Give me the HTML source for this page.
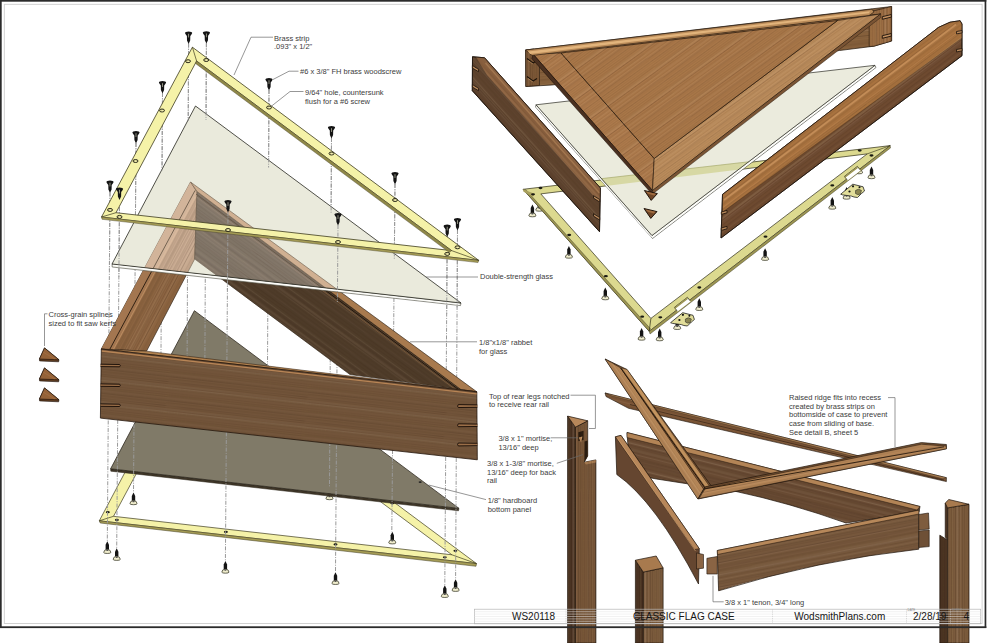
<!DOCTYPE html>
<html><head><meta charset="utf-8"><style>
html,body{margin:0;padding:0;background:#fff;}
body{width:1000px;height:643px;overflow:hidden;}
svg{display:block;font-family:"Liberation Sans", sans-serif;}
</style></head><body>
<svg width="1000" height="643" viewBox="0 0 1000 643">
<defs>
<pattern id="gH" width="140" height="24.0" patternUnits="userSpaceOnUse" patternTransform="rotate(6.4)"><path d="M0,-0.05 C35,-0.73 70,0.62 70,-0.05 S105,0.46 140,-0.05" stroke="#241204" stroke-opacity="0.201" stroke-width="1.10" fill="none"/><path d="M0,2.34 C35,1.83 70,2.85 70,2.34 S105,1.65 140,2.34" stroke="#241204" stroke-opacity="0.105" stroke-width="1.02" fill="none"/><path d="M0,4.57 C35,4.72 70,4.41 70,4.57 S105,5.08 140,4.57" stroke="#241204" stroke-opacity="0.216" stroke-width="0.70" fill="none"/><path d="M0,6.62 C35,6.33 70,6.92 70,6.62 S105,7.18 140,6.62" stroke="#241204" stroke-opacity="0.154" stroke-width="0.93" fill="none"/><path d="M0,8.42 C35,8.34 70,8.51 70,8.42 S105,7.92 140,8.42" stroke="#241204" stroke-opacity="0.128" stroke-width="0.86" fill="none"/><path d="M0,11.50 C35,11.86 70,11.13 70,11.50 S105,12.20 140,11.50" stroke="#241204" stroke-opacity="0.169" stroke-width="0.43" fill="none"/><path d="M0,13.62 C35,13.85 70,13.39 70,13.62 S105,13.52 140,13.62" stroke="#241204" stroke-opacity="0.186" stroke-width="0.41" fill="none"/><path d="M0,15.36 C35,14.67 70,16.05 70,15.36 S105,14.81 140,15.36" stroke="#241204" stroke-opacity="0.106" stroke-width="0.83" fill="none"/><path d="M0,17.88 C35,18.24 70,17.52 70,17.88 S105,18.43 140,17.88" stroke="#241204" stroke-opacity="0.151" stroke-width="0.55" fill="none"/><path d="M0,19.32 C35,19.51 70,19.12 70,19.32 S105,19.52 140,19.32" stroke="#241204" stroke-opacity="0.194" stroke-width="0.74" fill="none"/><path d="M0,22.06 C35,21.45 70,22.67 70,22.06 S105,21.78 140,22.06" stroke="#241204" stroke-opacity="0.173" stroke-width="0.66" fill="none"/><path d="M0,17.20 C42,17.63 84,16.77 140,17.20" stroke="#ffe6c4" stroke-opacity="0.051" stroke-width="0.76" fill="none"/><path d="M0,6.56 C42,6.56 84,6.56 140,6.56" stroke="#ffe6c4" stroke-opacity="0.080" stroke-width="0.75" fill="none"/><path d="M0,7.94 C42,8.02 84,7.86 140,7.94" stroke="#ffe6c4" stroke-opacity="0.062" stroke-width="0.73" fill="none"/><path d="M0,4.27 C42,4.38 84,4.17 140,4.27" stroke="#ffe6c4" stroke-opacity="0.093" stroke-width="0.97" fill="none"/><path d="M0,6.47 C42,6.07 84,6.87 140,6.47" stroke="#ffe6c4" stroke-opacity="0.077" stroke-width="0.80" fill="none"/></pattern>
<pattern id="gB" width="140" height="24.0" patternUnits="userSpaceOnUse" patternTransform="rotate(14)"><path d="M0,-0.20 C35,-0.18 70,-0.22 70,-0.20 S105,-0.85 140,-0.20" stroke="#241204" stroke-opacity="0.088" stroke-width="0.42" fill="none"/><path d="M0,2.68 C35,2.06 70,3.31 70,2.68 S105,2.07 140,2.68" stroke="#241204" stroke-opacity="0.196" stroke-width="0.52" fill="none"/><path d="M0,3.94 C35,4.33 70,3.55 70,3.94 S105,3.64 140,3.94" stroke="#241204" stroke-opacity="0.192" stroke-width="0.91" fill="none"/><path d="M0,6.89 C35,7.21 70,6.58 70,6.89 S105,6.31 140,6.89" stroke="#241204" stroke-opacity="0.197" stroke-width="0.73" fill="none"/><path d="M0,9.07 C35,9.02 70,9.12 70,9.07 S105,9.47 140,9.07" stroke="#241204" stroke-opacity="0.143" stroke-width="0.46" fill="none"/><path d="M0,10.38 C35,10.86 70,9.89 70,10.38 S105,10.25 140,10.38" stroke="#241204" stroke-opacity="0.131" stroke-width="0.64" fill="none"/><path d="M0,12.88 C35,12.53 70,13.24 70,12.88 S105,12.22 140,12.88" stroke="#241204" stroke-opacity="0.083" stroke-width="0.95" fill="none"/><path d="M0,15.77 C35,16.08 70,15.46 70,15.77 S105,15.93 140,15.77" stroke="#241204" stroke-opacity="0.200" stroke-width="0.85" fill="none"/><path d="M0,17.93 C35,18.26 70,17.59 70,17.93 S105,17.78 140,17.93" stroke="#241204" stroke-opacity="0.114" stroke-width="0.80" fill="none"/><path d="M0,19.80 C35,20.08 70,19.52 70,19.80 S105,19.63 140,19.80" stroke="#241204" stroke-opacity="0.107" stroke-width="1.01" fill="none"/><path d="M0,21.56 C35,21.21 70,21.91 70,21.56 S105,21.41 140,21.56" stroke="#241204" stroke-opacity="0.157" stroke-width="0.44" fill="none"/><path d="M0,13.49 C42,13.83 84,13.15 140,13.49" stroke="#ffe6c4" stroke-opacity="0.073" stroke-width="0.81" fill="none"/><path d="M0,13.20 C42,13.10 84,13.29 140,13.20" stroke="#ffe6c4" stroke-opacity="0.096" stroke-width="1.30" fill="none"/><path d="M0,18.93 C42,18.75 84,19.11 140,18.93" stroke="#ffe6c4" stroke-opacity="0.077" stroke-width="0.77" fill="none"/><path d="M0,23.70 C42,23.17 84,24.22 140,23.70" stroke="#ffe6c4" stroke-opacity="0.082" stroke-width="0.95" fill="none"/><path d="M0,19.93 C42,19.83 84,20.02 140,19.93" stroke="#ffe6c4" stroke-opacity="0.088" stroke-width="1.07" fill="none"/></pattern>
<pattern id="gF" width="140" height="24.0" patternUnits="userSpaceOnUse" patternTransform="rotate(-11)"><path d="M0,0.63 C35,0.66 70,0.59 70,0.63 S105,0.52 140,0.63" stroke="#241204" stroke-opacity="0.141" stroke-width="0.61" fill="none"/><path d="M0,1.87 C35,1.18 70,2.57 70,1.87 S105,1.68 140,1.87" stroke="#241204" stroke-opacity="0.122" stroke-width="0.87" fill="none"/><path d="M0,3.99 C35,4.28 70,3.69 70,3.99 S105,4.19 140,3.99" stroke="#241204" stroke-opacity="0.084" stroke-width="0.51" fill="none"/><path d="M0,6.27 C35,6.82 70,5.71 70,6.27 S105,5.83 140,6.27" stroke="#241204" stroke-opacity="0.183" stroke-width="0.90" fill="none"/><path d="M0,8.21 C35,8.91 70,7.51 70,8.21 S105,7.73 140,8.21" stroke="#241204" stroke-opacity="0.170" stroke-width="0.68" fill="none"/><path d="M0,11.20 C35,10.75 70,11.64 70,11.20 S105,11.54 140,11.20" stroke="#241204" stroke-opacity="0.091" stroke-width="0.51" fill="none"/><path d="M0,12.80 C35,12.69 70,12.91 70,12.80 S105,12.75 140,12.80" stroke="#241204" stroke-opacity="0.148" stroke-width="0.97" fill="none"/><path d="M0,14.62 C35,14.30 70,14.94 70,14.62 S105,14.00 140,14.62" stroke="#241204" stroke-opacity="0.087" stroke-width="0.94" fill="none"/><path d="M0,17.48 C35,17.46 70,17.50 70,17.48 S105,16.85 140,17.48" stroke="#241204" stroke-opacity="0.180" stroke-width="1.05" fill="none"/><path d="M0,20.16 C35,20.57 70,19.75 70,20.16 S105,20.81 140,20.16" stroke="#241204" stroke-opacity="0.175" stroke-width="0.61" fill="none"/><path d="M0,22.06 C35,21.81 70,22.32 70,22.06 S105,21.77 140,22.06" stroke="#241204" stroke-opacity="0.127" stroke-width="1.03" fill="none"/><path d="M0,10.63 C42,10.14 84,11.11 140,10.63" stroke="#ffe6c4" stroke-opacity="0.085" stroke-width="0.74" fill="none"/><path d="M0,6.19 C42,6.45 84,5.94 140,6.19" stroke="#ffe6c4" stroke-opacity="0.086" stroke-width="1.18" fill="none"/><path d="M0,4.07 C42,3.59 84,4.54 140,4.07" stroke="#ffe6c4" stroke-opacity="0.087" stroke-width="0.73" fill="none"/><path d="M0,18.28 C42,18.65 84,17.91 140,18.28" stroke="#ffe6c4" stroke-opacity="0.070" stroke-width="1.17" fill="none"/><path d="M0,5.69 C42,5.48 84,5.90 140,5.69" stroke="#ffe6c4" stroke-opacity="0.091" stroke-width="0.66" fill="none"/></pattern>
<pattern id="gR" width="140" height="24.0" patternUnits="userSpaceOnUse" patternTransform="rotate(36)"><path d="M0,-0.40 C35,-0.47 70,-0.32 70,-0.40 S105,-0.62 140,-0.40" stroke="#241204" stroke-opacity="0.092" stroke-width="0.79" fill="none"/><path d="M0,1.58 C35,1.76 70,1.39 70,1.58 S105,1.73 140,1.58" stroke="#241204" stroke-opacity="0.077" stroke-width="0.80" fill="none"/><path d="M0,4.39 C35,4.82 70,3.96 70,4.39 S105,4.88 140,4.39" stroke="#241204" stroke-opacity="0.144" stroke-width="0.42" fill="none"/><path d="M0,6.88 C35,6.27 70,7.50 70,6.88 S105,6.95 140,6.88" stroke="#241204" stroke-opacity="0.167" stroke-width="1.01" fill="none"/><path d="M0,9.15 C35,9.10 70,9.21 70,9.15 S105,9.81 140,9.15" stroke="#241204" stroke-opacity="0.110" stroke-width="1.05" fill="none"/><path d="M0,11.00 C35,10.97 70,11.04 70,11.00 S105,10.44 140,11.00" stroke="#241204" stroke-opacity="0.090" stroke-width="0.62" fill="none"/><path d="M0,12.68 C35,12.95 70,12.42 70,12.68 S105,12.37 140,12.68" stroke="#241204" stroke-opacity="0.129" stroke-width="0.80" fill="none"/><path d="M0,15.26 C35,15.74 70,14.77 70,15.26 S105,15.40 140,15.26" stroke="#241204" stroke-opacity="0.108" stroke-width="0.62" fill="none"/><path d="M0,18.07 C35,17.73 70,18.41 70,18.07 S105,17.80 140,18.07" stroke="#241204" stroke-opacity="0.168" stroke-width="0.83" fill="none"/><path d="M0,19.16 C35,18.68 70,19.64 70,19.16 S105,19.41 140,19.16" stroke="#241204" stroke-opacity="0.093" stroke-width="0.58" fill="none"/><path d="M0,21.36 C35,21.68 70,21.05 70,21.36 S105,21.88 140,21.36" stroke="#241204" stroke-opacity="0.132" stroke-width="0.58" fill="none"/><path d="M0,6.73 C42,6.94 84,6.51 140,6.73" stroke="#ffe6c4" stroke-opacity="0.057" stroke-width="1.19" fill="none"/><path d="M0,15.39 C42,14.95 84,15.83 140,15.39" stroke="#ffe6c4" stroke-opacity="0.086" stroke-width="1.00" fill="none"/><path d="M0,21.50 C42,21.38 84,21.62 140,21.50" stroke="#ffe6c4" stroke-opacity="0.098" stroke-width="0.77" fill="none"/><path d="M0,23.68 C42,23.11 84,24.25 140,23.68" stroke="#ffe6c4" stroke-opacity="0.097" stroke-width="0.66" fill="none"/><path d="M0,20.35 C42,20.87 84,19.83 140,20.35" stroke="#ffe6c4" stroke-opacity="0.065" stroke-width="1.10" fill="none"/></pattern>
<pattern id="gL" width="140" height="24.0" patternUnits="userSpaceOnUse" patternTransform="rotate(-62)"><path d="M0,-0.58 C35,-0.39 70,-0.78 70,-0.58 S105,-0.17 140,-0.58" stroke="#241204" stroke-opacity="0.084" stroke-width="1.09" fill="none"/><path d="M0,2.33 C35,1.80 70,2.85 70,2.33 S105,2.59 140,2.33" stroke="#241204" stroke-opacity="0.157" stroke-width="0.67" fill="none"/><path d="M0,4.09 C35,4.01 70,4.17 70,4.09 S105,3.65 140,4.09" stroke="#241204" stroke-opacity="0.164" stroke-width="0.62" fill="none"/><path d="M0,7.01 C35,7.06 70,6.97 70,7.01 S105,6.81 140,7.01" stroke="#241204" stroke-opacity="0.197" stroke-width="1.00" fill="none"/><path d="M0,8.34 C35,8.37 70,8.31 70,8.34 S105,8.10 140,8.34" stroke="#241204" stroke-opacity="0.179" stroke-width="0.50" fill="none"/><path d="M0,10.53 C35,10.66 70,10.41 70,10.53 S105,10.35 140,10.53" stroke="#241204" stroke-opacity="0.108" stroke-width="1.07" fill="none"/><path d="M0,12.99 C35,12.63 70,13.36 70,12.99 S105,12.38 140,12.99" stroke="#241204" stroke-opacity="0.155" stroke-width="0.85" fill="none"/><path d="M0,15.80 C35,15.26 70,16.34 70,15.80 S105,15.51 140,15.80" stroke="#241204" stroke-opacity="0.180" stroke-width="0.67" fill="none"/><path d="M0,17.06 C35,17.71 70,16.42 70,17.06 S105,16.77 140,17.06" stroke="#241204" stroke-opacity="0.180" stroke-width="0.79" fill="none"/><path d="M0,19.37 C35,20.03 70,18.71 70,19.37 S105,19.46 140,19.37" stroke="#241204" stroke-opacity="0.158" stroke-width="0.89" fill="none"/><path d="M0,22.47 C35,22.26 70,22.68 70,22.47 S105,22.88 140,22.47" stroke="#241204" stroke-opacity="0.173" stroke-width="1.05" fill="none"/><path d="M0,14.27 C42,14.86 84,13.69 140,14.27" stroke="#ffe6c4" stroke-opacity="0.091" stroke-width="1.05" fill="none"/><path d="M0,23.39 C42,22.85 84,23.94 140,23.39" stroke="#ffe6c4" stroke-opacity="0.071" stroke-width="0.68" fill="none"/><path d="M0,11.23 C42,11.66 84,10.80 140,11.23" stroke="#ffe6c4" stroke-opacity="0.090" stroke-width="0.95" fill="none"/><path d="M0,16.06 C42,15.93 84,16.18 140,16.06" stroke="#ffe6c4" stroke-opacity="0.069" stroke-width="1.24" fill="none"/><path d="M0,21.42 C42,21.64 84,21.21 140,21.42" stroke="#ffe6c4" stroke-opacity="0.099" stroke-width="0.96" fill="none"/></pattern>
<pattern id="gP" width="140" height="24.0" patternUnits="userSpaceOnUse" patternTransform="rotate(-36)"><path d="M0,0.32 C35,0.78 70,-0.14 70,0.32 S105,0.97 140,0.32" stroke="#241204" stroke-opacity="0.205" stroke-width="0.70" fill="none"/><path d="M0,2.32 C35,2.71 70,1.93 70,2.32 S105,2.63 140,2.32" stroke="#241204" stroke-opacity="0.096" stroke-width="0.71" fill="none"/><path d="M0,4.68 C35,3.98 70,5.38 70,4.68 S105,4.71 140,4.68" stroke="#241204" stroke-opacity="0.113" stroke-width="0.83" fill="none"/><path d="M0,6.71 C35,7.29 70,6.13 70,6.71 S105,6.79 140,6.71" stroke="#241204" stroke-opacity="0.136" stroke-width="0.85" fill="none"/><path d="M0,8.82 C35,8.59 70,9.05 70,8.82 S105,8.30 140,8.82" stroke="#241204" stroke-opacity="0.183" stroke-width="0.62" fill="none"/><path d="M0,11.49 C35,10.98 70,12.00 70,11.49 S105,11.26 140,11.49" stroke="#241204" stroke-opacity="0.195" stroke-width="0.98" fill="none"/><path d="M0,13.70 C35,13.24 70,14.15 70,13.70 S105,13.39 140,13.70" stroke="#241204" stroke-opacity="0.083" stroke-width="1.08" fill="none"/><path d="M0,14.90 C35,15.56 70,14.25 70,14.90 S105,15.31 140,14.90" stroke="#241204" stroke-opacity="0.174" stroke-width="0.45" fill="none"/><path d="M0,17.35 C35,17.18 70,17.52 70,17.35 S105,17.69 140,17.35" stroke="#241204" stroke-opacity="0.200" stroke-width="0.43" fill="none"/><path d="M0,20.05 C35,20.71 70,19.39 70,20.05 S105,19.65 140,20.05" stroke="#241204" stroke-opacity="0.218" stroke-width="0.78" fill="none"/><path d="M0,22.07 C35,21.90 70,22.23 70,22.07 S105,22.28 140,22.07" stroke="#241204" stroke-opacity="0.085" stroke-width="1.06" fill="none"/><path d="M0,15.57 C42,15.23 84,15.90 140,15.57" stroke="#ffe6c4" stroke-opacity="0.088" stroke-width="0.87" fill="none"/><path d="M0,18.93 C42,18.97 84,18.89 140,18.93" stroke="#ffe6c4" stroke-opacity="0.060" stroke-width="1.35" fill="none"/><path d="M0,9.77 C42,10.09 84,9.44 140,9.77" stroke="#ffe6c4" stroke-opacity="0.061" stroke-width="0.85" fill="none"/><path d="M0,8.79 C42,8.58 84,9.00 140,8.79" stroke="#ffe6c4" stroke-opacity="0.058" stroke-width="0.97" fill="none"/><path d="M0,10.37 C42,10.83 84,9.92 140,10.37" stroke="#ffe6c4" stroke-opacity="0.062" stroke-width="1.24" fill="none"/></pattern>
<pattern id="gLR" width="140" height="24.0" patternUnits="userSpaceOnUse" patternTransform="rotate(48)"><path d="M0,0.18 C35,0.36 70,0.00 70,0.18 S105,-0.18 140,0.18" stroke="#241204" stroke-opacity="0.192" stroke-width="0.64" fill="none"/><path d="M0,2.00 C35,2.31 70,1.70 70,2.00 S105,1.80 140,2.00" stroke="#241204" stroke-opacity="0.212" stroke-width="0.72" fill="none"/><path d="M0,4.20 C35,3.53 70,4.87 70,4.20 S105,4.56 140,4.20" stroke="#241204" stroke-opacity="0.108" stroke-width="0.72" fill="none"/><path d="M0,6.78 C35,6.73 70,6.82 70,6.78 S105,7.41 140,6.78" stroke="#241204" stroke-opacity="0.133" stroke-width="0.65" fill="none"/><path d="M0,8.21 C35,7.55 70,8.87 70,8.21 S105,7.67 140,8.21" stroke="#241204" stroke-opacity="0.159" stroke-width="0.48" fill="none"/><path d="M0,10.91 C35,10.42 70,11.40 70,10.91 S105,11.32 140,10.91" stroke="#241204" stroke-opacity="0.082" stroke-width="0.94" fill="none"/><path d="M0,13.66 C35,14.29 70,13.03 70,13.66 S105,13.61 140,13.66" stroke="#241204" stroke-opacity="0.193" stroke-width="0.52" fill="none"/><path d="M0,15.87 C35,16.54 70,15.21 70,15.87 S105,16.18 140,15.87" stroke="#241204" stroke-opacity="0.215" stroke-width="0.84" fill="none"/><path d="M0,18.07 C35,17.91 70,18.23 70,18.07 S105,17.49 140,18.07" stroke="#241204" stroke-opacity="0.107" stroke-width="1.01" fill="none"/><path d="M0,20.08 C35,19.92 70,20.25 70,20.08 S105,20.38 140,20.08" stroke="#241204" stroke-opacity="0.206" stroke-width="0.64" fill="none"/><path d="M0,21.51 C35,22.19 70,20.84 70,21.51 S105,21.33 140,21.51" stroke="#241204" stroke-opacity="0.209" stroke-width="0.58" fill="none"/><path d="M0,23.10 C42,22.55 84,23.66 140,23.10" stroke="#ffe6c4" stroke-opacity="0.068" stroke-width="0.95" fill="none"/><path d="M0,1.30 C42,1.67 84,0.92 140,1.30" stroke="#ffe6c4" stroke-opacity="0.097" stroke-width="0.93" fill="none"/><path d="M0,16.67 C42,16.39 84,16.95 140,16.67" stroke="#ffe6c4" stroke-opacity="0.065" stroke-width="1.14" fill="none"/><path d="M0,12.33 C42,11.85 84,12.81 140,12.33" stroke="#ffe6c4" stroke-opacity="0.099" stroke-width="1.39" fill="none"/><path d="M0,14.67 C42,15.18 84,14.17 140,14.67" stroke="#ffe6c4" stroke-opacity="0.067" stroke-width="0.94" fill="none"/></pattern>
<pattern id="gRR" width="140" height="24.0" patternUnits="userSpaceOnUse" patternTransform="rotate(-37)"><path d="M0,-0.63 C35,-1.15 70,-0.12 70,-0.63 S105,-0.47 140,-0.63" stroke="#241204" stroke-opacity="0.172" stroke-width="0.81" fill="none"/><path d="M0,1.90 C35,2.54 70,1.26 70,1.90 S105,1.20 140,1.90" stroke="#241204" stroke-opacity="0.178" stroke-width="0.94" fill="none"/><path d="M0,4.61 C35,5.24 70,3.99 70,4.61 S105,4.68 140,4.61" stroke="#241204" stroke-opacity="0.150" stroke-width="1.07" fill="none"/><path d="M0,6.37 C35,6.85 70,5.89 70,6.37 S105,6.61 140,6.37" stroke="#241204" stroke-opacity="0.098" stroke-width="0.43" fill="none"/><path d="M0,8.16 C35,7.77 70,8.55 70,8.16 S105,7.55 140,8.16" stroke="#241204" stroke-opacity="0.112" stroke-width="0.81" fill="none"/><path d="M0,10.95 C35,11.25 70,10.66 70,10.95 S105,10.45 140,10.95" stroke="#241204" stroke-opacity="0.199" stroke-width="0.67" fill="none"/><path d="M0,13.06 C35,12.70 70,13.41 70,13.06 S105,13.68 140,13.06" stroke="#241204" stroke-opacity="0.132" stroke-width="0.98" fill="none"/><path d="M0,14.64 C35,14.50 70,14.79 70,14.64 S105,14.10 140,14.64" stroke="#241204" stroke-opacity="0.220" stroke-width="0.47" fill="none"/><path d="M0,17.87 C35,17.77 70,17.96 70,17.87 S105,17.59 140,17.87" stroke="#241204" stroke-opacity="0.207" stroke-width="0.84" fill="none"/><path d="M0,20.06 C35,20.12 70,20.01 70,20.06 S105,20.32 140,20.06" stroke="#241204" stroke-opacity="0.173" stroke-width="0.46" fill="none"/><path d="M0,21.99 C35,22.03 70,21.95 70,21.99 S105,21.90 140,21.99" stroke="#241204" stroke-opacity="0.140" stroke-width="0.89" fill="none"/><path d="M0,11.55 C42,12.02 84,11.07 140,11.55" stroke="#ffe6c4" stroke-opacity="0.095" stroke-width="1.02" fill="none"/><path d="M0,20.34 C42,20.17 84,20.52 140,20.34" stroke="#ffe6c4" stroke-opacity="0.066" stroke-width="1.00" fill="none"/><path d="M0,13.16 C42,12.97 84,13.34 140,13.16" stroke="#ffe6c4" stroke-opacity="0.066" stroke-width="0.63" fill="none"/><path d="M0,9.13 C42,9.58 84,8.67 140,9.13" stroke="#ffe6c4" stroke-opacity="0.098" stroke-width="1.13" fill="none"/><path d="M0,8.91 C42,9.26 84,8.55 140,8.91" stroke="#ffe6c4" stroke-opacity="0.099" stroke-width="1.36" fill="none"/></pattern>
<pattern id="gT" width="140" height="24.0" patternUnits="userSpaceOnUse" patternTransform="rotate(-6.5)"><path d="M0,-0.02 C35,-0.22 70,0.18 70,-0.02 S105,0.23 140,-0.02" stroke="#241204" stroke-opacity="0.130" stroke-width="0.79" fill="none"/><path d="M0,2.40 C35,2.87 70,1.93 70,2.40 S105,1.81 140,2.40" stroke="#241204" stroke-opacity="0.193" stroke-width="0.48" fill="none"/><path d="M0,4.26 C35,4.60 70,3.92 70,4.26 S105,3.72 140,4.26" stroke="#241204" stroke-opacity="0.201" stroke-width="0.65" fill="none"/><path d="M0,6.46 C35,6.21 70,6.71 70,6.46 S105,5.96 140,6.46" stroke="#241204" stroke-opacity="0.180" stroke-width="0.73" fill="none"/><path d="M0,9.16 C35,9.13 70,9.20 70,9.16 S105,9.74 140,9.16" stroke="#241204" stroke-opacity="0.191" stroke-width="1.09" fill="none"/><path d="M0,10.77 C35,10.20 70,11.34 70,10.77 S105,11.36 140,10.77" stroke="#241204" stroke-opacity="0.099" stroke-width="0.97" fill="none"/><path d="M0,13.62 C35,13.22 70,14.02 70,13.62 S105,13.68 140,13.62" stroke="#241204" stroke-opacity="0.217" stroke-width="0.94" fill="none"/><path d="M0,15.46 C35,16.04 70,14.88 70,15.46 S105,15.65 140,15.46" stroke="#241204" stroke-opacity="0.202" stroke-width="0.54" fill="none"/><path d="M0,17.86 C35,18.40 70,17.32 70,17.86 S105,17.36 140,17.86" stroke="#241204" stroke-opacity="0.120" stroke-width="0.86" fill="none"/><path d="M0,20.23 C35,19.69 70,20.78 70,20.23 S105,20.73 140,20.23" stroke="#241204" stroke-opacity="0.172" stroke-width="0.89" fill="none"/><path d="M0,21.79 C35,21.70 70,21.87 70,21.79 S105,21.64 140,21.79" stroke="#241204" stroke-opacity="0.165" stroke-width="0.67" fill="none"/><path d="M0,1.55 C42,2.12 84,0.99 140,1.55" stroke="#ffe6c4" stroke-opacity="0.079" stroke-width="1.36" fill="none"/><path d="M0,8.47 C42,8.36 84,8.59 140,8.47" stroke="#ffe6c4" stroke-opacity="0.089" stroke-width="0.83" fill="none"/><path d="M0,8.74 C42,9.22 84,8.25 140,8.74" stroke="#ffe6c4" stroke-opacity="0.097" stroke-width="1.03" fill="none"/><path d="M0,10.19 C42,10.71 84,9.67 140,10.19" stroke="#ffe6c4" stroke-opacity="0.055" stroke-width="0.96" fill="none"/><path d="M0,15.78 C42,15.97 84,15.60 140,15.78" stroke="#ffe6c4" stroke-opacity="0.053" stroke-width="1.26" fill="none"/></pattern>
<pattern id="gV" width="140" height="24.0" patternUnits="userSpaceOnUse" patternTransform="rotate(90)"><path d="M0,0.34 C35,0.80 70,-0.12 70,0.34 S105,0.44 140,0.34" stroke="#241204" stroke-opacity="0.130" stroke-width="0.61" fill="none"/><path d="M0,1.76 C35,1.53 70,2.00 70,1.76 S105,1.94 140,1.76" stroke="#241204" stroke-opacity="0.201" stroke-width="0.83" fill="none"/><path d="M0,4.18 C35,4.09 70,4.26 70,4.18 S105,4.26 140,4.18" stroke="#241204" stroke-opacity="0.201" stroke-width="1.02" fill="none"/><path d="M0,6.81 C35,6.43 70,7.19 70,6.81 S105,6.97 140,6.81" stroke="#241204" stroke-opacity="0.176" stroke-width="0.43" fill="none"/><path d="M0,8.54 C35,8.28 70,8.80 70,8.54 S105,8.96 140,8.54" stroke="#241204" stroke-opacity="0.173" stroke-width="0.65" fill="none"/><path d="M0,11.26 C35,11.49 70,11.04 70,11.26 S105,11.79 140,11.26" stroke="#241204" stroke-opacity="0.204" stroke-width="0.88" fill="none"/><path d="M0,12.68 C35,13.18 70,12.18 70,12.68 S105,12.11 140,12.68" stroke="#241204" stroke-opacity="0.105" stroke-width="1.06" fill="none"/><path d="M0,15.57 C35,15.59 70,15.54 70,15.57 S105,15.99 140,15.57" stroke="#241204" stroke-opacity="0.094" stroke-width="0.82" fill="none"/><path d="M0,17.23 C35,16.98 70,17.48 70,17.23 S105,17.65 140,17.23" stroke="#241204" stroke-opacity="0.109" stroke-width="0.42" fill="none"/><path d="M0,19.33 C35,19.74 70,18.92 70,19.33 S105,19.20 140,19.33" stroke="#241204" stroke-opacity="0.113" stroke-width="1.08" fill="none"/><path d="M0,21.46 C35,21.52 70,21.40 70,21.46 S105,20.91 140,21.46" stroke="#241204" stroke-opacity="0.140" stroke-width="1.06" fill="none"/><path d="M0,2.19 C42,2.70 84,1.69 140,2.19" stroke="#ffe6c4" stroke-opacity="0.080" stroke-width="1.39" fill="none"/><path d="M0,7.30 C42,7.13 84,7.47 140,7.30" stroke="#ffe6c4" stroke-opacity="0.067" stroke-width="0.74" fill="none"/><path d="M0,3.06 C42,3.48 84,2.65 140,3.06" stroke="#ffe6c4" stroke-opacity="0.086" stroke-width="1.22" fill="none"/><path d="M0,12.11 C42,12.27 84,11.96 140,12.11" stroke="#ffe6c4" stroke-opacity="0.079" stroke-width="0.99" fill="none"/><path d="M0,23.67 C42,23.93 84,23.40 140,23.67" stroke="#ffe6c4" stroke-opacity="0.078" stroke-width="0.87" fill="none"/></pattern>
<pattern id="gS" width="140" height="24.0" patternUnits="userSpaceOnUse" patternTransform="rotate(56)"><path d="M0,-0.60 C35,-0.06 70,-1.14 70,-0.60 S105,-0.25 140,-0.60" stroke="#241204" stroke-opacity="0.165" stroke-width="1.08" fill="none"/><path d="M0,1.77 C35,1.47 70,2.07 70,1.77 S105,1.77 140,1.77" stroke="#241204" stroke-opacity="0.086" stroke-width="0.52" fill="none"/><path d="M0,4.55 C35,5.13 70,3.97 70,4.55 S105,4.40 140,4.55" stroke="#241204" stroke-opacity="0.078" stroke-width="0.44" fill="none"/><path d="M0,6.47 C35,7.08 70,5.86 70,6.47 S105,5.93 140,6.47" stroke="#241204" stroke-opacity="0.114" stroke-width="0.56" fill="none"/><path d="M0,9.17 C35,9.56 70,8.77 70,9.17 S105,8.73 140,9.17" stroke="#241204" stroke-opacity="0.135" stroke-width="0.97" fill="none"/><path d="M0,10.90 C35,10.89 70,10.91 70,10.90 S105,11.44 140,10.90" stroke="#241204" stroke-opacity="0.198" stroke-width="0.48" fill="none"/><path d="M0,12.74 C35,13.21 70,12.27 70,12.74 S105,12.34 140,12.74" stroke="#241204" stroke-opacity="0.176" stroke-width="0.84" fill="none"/><path d="M0,15.74 C35,16.17 70,15.30 70,15.74 S105,15.76 140,15.74" stroke="#241204" stroke-opacity="0.189" stroke-width="0.51" fill="none"/><path d="M0,17.02 C35,17.02 70,17.03 70,17.02 S105,17.17 140,17.02" stroke="#241204" stroke-opacity="0.183" stroke-width="1.02" fill="none"/><path d="M0,19.71 C35,19.45 70,19.98 70,19.71 S105,19.93 140,19.71" stroke="#241204" stroke-opacity="0.211" stroke-width="0.97" fill="none"/><path d="M0,21.87 C35,21.78 70,21.96 70,21.87 S105,21.45 140,21.87" stroke="#241204" stroke-opacity="0.164" stroke-width="0.64" fill="none"/><path d="M0,16.57 C42,16.67 84,16.48 140,16.57" stroke="#ffe6c4" stroke-opacity="0.063" stroke-width="1.39" fill="none"/><path d="M0,14.66 C42,14.49 84,14.82 140,14.66" stroke="#ffe6c4" stroke-opacity="0.053" stroke-width="1.40" fill="none"/><path d="M0,12.54 C42,12.05 84,13.02 140,12.54" stroke="#ffe6c4" stroke-opacity="0.073" stroke-width="0.94" fill="none"/><path d="M0,7.68 C42,7.69 84,7.67 140,7.68" stroke="#ffe6c4" stroke-opacity="0.094" stroke-width="1.13" fill="none"/><path d="M0,12.40 C42,11.91 84,12.89 140,12.40" stroke="#ffe6c4" stroke-opacity="0.098" stroke-width="1.25" fill="none"/></pattern>
<pattern id="gD" width="140" height="24.0" patternUnits="userSpaceOnUse" patternTransform="rotate(-35)"><path d="M0,-0.50 C35,-0.04 70,-0.96 70,-0.50 S105,-0.99 140,-0.50" stroke="#241204" stroke-opacity="0.092" stroke-width="0.44" fill="none"/><path d="M0,2.01 C35,1.33 70,2.69 70,2.01 S105,2.36 140,2.01" stroke="#241204" stroke-opacity="0.114" stroke-width="0.99" fill="none"/><path d="M0,3.90 C35,3.98 70,3.81 70,3.90 S105,3.23 140,3.90" stroke="#241204" stroke-opacity="0.202" stroke-width="0.48" fill="none"/><path d="M0,6.21 C35,6.68 70,5.74 70,6.21 S105,6.17 140,6.21" stroke="#241204" stroke-opacity="0.164" stroke-width="1.09" fill="none"/><path d="M0,9.34 C35,9.70 70,8.98 70,9.34 S105,9.70 140,9.34" stroke="#241204" stroke-opacity="0.184" stroke-width="0.74" fill="none"/><path d="M0,11.55 C35,10.97 70,12.12 70,11.55 S105,12.18 140,11.55" stroke="#241204" stroke-opacity="0.157" stroke-width="0.70" fill="none"/><path d="M0,12.72 C35,12.35 70,13.09 70,12.72 S105,12.47 140,12.72" stroke="#241204" stroke-opacity="0.087" stroke-width="0.82" fill="none"/><path d="M0,15.39 C35,14.98 70,15.81 70,15.39 S105,15.80 140,15.39" stroke="#241204" stroke-opacity="0.193" stroke-width="1.07" fill="none"/><path d="M0,17.79 C35,17.71 70,17.87 70,17.79 S105,17.48 140,17.79" stroke="#241204" stroke-opacity="0.160" stroke-width="1.06" fill="none"/><path d="M0,19.31 C35,19.79 70,18.84 70,19.31 S105,19.79 140,19.31" stroke="#241204" stroke-opacity="0.145" stroke-width="0.64" fill="none"/><path d="M0,21.52 C35,21.55 70,21.50 70,21.52 S105,21.89 140,21.52" stroke="#241204" stroke-opacity="0.145" stroke-width="0.45" fill="none"/><path d="M0,2.71 C42,2.70 84,2.72 140,2.71" stroke="#ffe6c4" stroke-opacity="0.063" stroke-width="1.00" fill="none"/><path d="M0,20.83 C42,20.51 84,21.15 140,20.83" stroke="#ffe6c4" stroke-opacity="0.066" stroke-width="0.64" fill="none"/><path d="M0,20.80 C42,20.47 84,21.13 140,20.80" stroke="#ffe6c4" stroke-opacity="0.091" stroke-width="1.30" fill="none"/><path d="M0,0.62 C42,0.47 84,0.77 140,0.62" stroke="#ffe6c4" stroke-opacity="0.072" stroke-width="1.09" fill="none"/><path d="M0,20.11 C42,19.88 84,20.33 140,20.11" stroke="#ffe6c4" stroke-opacity="0.098" stroke-width="1.38" fill="none"/></pattern>
</defs>
<rect width="1000" height="643" fill="#fff"/>

<path d="M99.3,520.8 L189.7,350.2 L476.5,563.6 Z M113.5,516.3 L451.9,554.8 L195.1,363.7 Z" fill="#f5f2a8" fill-rule="evenodd" stroke="#3e3b20" stroke-width="0.7" stroke-linejoin="round"/>
<polygon points="99.3,520.8 476.5,563.6 476.0,566.3 100.2,523.0" fill="#a59c55" stroke="#3e3b20" stroke-width="0.5" stroke-linejoin="round" />
<line x1="99.3" y1="520.8" x2="113.5" y2="516.3" stroke="#3e3b20" stroke-width="0.7" />
<line x1="476.5" y1="563.6" x2="451.9" y2="554.8" stroke="#3e3b20" stroke-width="0.7" />
<ellipse cx="107.8" cy="512.2" rx="2.0" ry="1.15" fill="#1a1a12"/>
<ellipse cx="116.9" cy="520" rx="2.0" ry="1.15" fill="#1a1a12"/>
<ellipse cx="225.9" cy="531.9" rx="2.0" ry="1.15" fill="#1a1a12"/>
<ellipse cx="335.5" cy="544.4" rx="2.0" ry="1.15" fill="#1a1a12"/>
<ellipse cx="444.8" cy="557.3" rx="2.0" ry="1.15" fill="#1a1a12"/>
<ellipse cx="455.4" cy="550.8" rx="2.0" ry="1.15" fill="#1a1a12"/>
<ellipse cx="392.3" cy="503.3" rx="2.0" ry="1.15" fill="#1a1a12"/>
<g transform="translate(107.3,553.3) scale(1.0)"><path d="M-1.7,-3.6 L-1.7,-8.5 L0,-12 L1.7,-8.5 L1.7,-3.6 Z" fill="#141414"/><path d="M-3.6,-0.8 Q-3.4,-3.8 0,-3.9 Q3.4,-3.8 3.6,-0.8 Q3.4,0.2 0,0.2 Q-3.4,0.2 -3.6,-0.8Z" fill="#efeccc" stroke="#2a2a1a" stroke-width="0.7"/><path d="M-1.2,-3.7 L1.2,-3.7 L0.8,-2.2 L-0.8,-2.2Z" fill="#555"/></g>
<g transform="translate(116.7,560.2) scale(1.0)"><path d="M-1.7,-3.6 L-1.7,-8.5 L0,-12 L1.7,-8.5 L1.7,-3.6 Z" fill="#141414"/><path d="M-3.6,-0.8 Q-3.4,-3.8 0,-3.9 Q3.4,-3.8 3.6,-0.8 Q3.4,0.2 0,0.2 Q-3.4,0.2 -3.6,-0.8Z" fill="#efeccc" stroke="#2a2a1a" stroke-width="0.7"/><path d="M-1.2,-3.7 L1.2,-3.7 L0.8,-2.2 L-0.8,-2.2Z" fill="#555"/></g>
<g transform="translate(133.5,504.5) scale(1.0)"><path d="M-1.7,-3.6 L-1.7,-8.5 L0,-12 L1.7,-8.5 L1.7,-3.6 Z" fill="#141414"/><path d="M-3.6,-0.8 Q-3.4,-3.8 0,-3.9 Q3.4,-3.8 3.6,-0.8 Q3.4,0.2 0,0.2 Q-3.4,0.2 -3.6,-0.8Z" fill="#efeccc" stroke="#2a2a1a" stroke-width="0.7"/><path d="M-1.2,-3.7 L1.2,-3.7 L0.8,-2.2 L-0.8,-2.2Z" fill="#555"/></g>
<g transform="translate(225.4,573) scale(1.0)"><path d="M-1.7,-3.6 L-1.7,-8.5 L0,-12 L1.7,-8.5 L1.7,-3.6 Z" fill="#141414"/><path d="M-3.6,-0.8 Q-3.4,-3.8 0,-3.9 Q3.4,-3.8 3.6,-0.8 Q3.4,0.2 0,0.2 Q-3.4,0.2 -3.6,-0.8Z" fill="#efeccc" stroke="#2a2a1a" stroke-width="0.7"/><path d="M-1.2,-3.7 L1.2,-3.7 L0.8,-2.2 L-0.8,-2.2Z" fill="#555"/></g>
<g transform="translate(335.5,584.3) scale(1.0)"><path d="M-1.7,-3.6 L-1.7,-8.5 L0,-12 L1.7,-8.5 L1.7,-3.6 Z" fill="#141414"/><path d="M-3.6,-0.8 Q-3.4,-3.8 0,-3.9 Q3.4,-3.8 3.6,-0.8 Q3.4,0.2 0,0.2 Q-3.4,0.2 -3.6,-0.8Z" fill="#efeccc" stroke="#2a2a1a" stroke-width="0.7"/><path d="M-1.2,-3.7 L1.2,-3.7 L0.8,-2.2 L-0.8,-2.2Z" fill="#555"/></g>
<g transform="translate(392.3,543.7) scale(1.0)"><path d="M-1.7,-3.6 L-1.7,-8.5 L0,-12 L1.7,-8.5 L1.7,-3.6 Z" fill="#141414"/><path d="M-3.6,-0.8 Q-3.4,-3.8 0,-3.9 Q3.4,-3.8 3.6,-0.8 Q3.4,0.2 0,0.2 Q-3.4,0.2 -3.6,-0.8Z" fill="#efeccc" stroke="#2a2a1a" stroke-width="0.7"/><path d="M-1.2,-3.7 L1.2,-3.7 L0.8,-2.2 L-0.8,-2.2Z" fill="#555"/></g>
<g transform="translate(444.8,597.3) scale(1.0)"><path d="M-1.7,-3.6 L-1.7,-8.5 L0,-12 L1.7,-8.5 L1.7,-3.6 Z" fill="#141414"/><path d="M-3.6,-0.8 Q-3.4,-3.8 0,-3.9 Q3.4,-3.8 3.6,-0.8 Q3.4,0.2 0,0.2 Q-3.4,0.2 -3.6,-0.8Z" fill="#efeccc" stroke="#2a2a1a" stroke-width="0.7"/><path d="M-1.2,-3.7 L1.2,-3.7 L0.8,-2.2 L-0.8,-2.2Z" fill="#555"/></g>
<g transform="translate(455.6,591.2) scale(1.0)"><path d="M-1.7,-3.6 L-1.7,-8.5 L0,-12 L1.7,-8.5 L1.7,-3.6 Z" fill="#141414"/><path d="M-3.6,-0.8 Q-3.4,-3.8 0,-3.9 Q3.4,-3.8 3.6,-0.8 Q3.4,0.2 0,0.2 Q-3.4,0.2 -3.6,-0.8Z" fill="#efeccc" stroke="#2a2a1a" stroke-width="0.7"/><path d="M-1.2,-3.7 L1.2,-3.7 L0.8,-2.2 L-0.8,-2.2Z" fill="#555"/></g>
<g transform="translate(329.5,499.5) scale(1.0)"><path d="M-1.7,-3.6 L-1.7,-8.5 L0,-12 L1.7,-8.5 L1.7,-3.6 Z" fill="#141414"/><path d="M-3.6,-0.8 Q-3.4,-3.8 0,-3.9 Q3.4,-3.8 3.6,-0.8 Q3.4,0.2 0,0.2 Q-3.4,0.2 -3.6,-0.8Z" fill="#efeccc" stroke="#2a2a1a" stroke-width="0.7"/><path d="M-1.2,-3.7 L1.2,-3.7 L0.8,-2.2 L-0.8,-2.2Z" fill="#555"/></g>
<polygon points="110.6,468.8 459.0,508.4 458.5,510.8 110.8,471.2" fill="#3f3628" stroke="#2a2418" stroke-width="0.5" stroke-linejoin="round" />
<polygon points="194.4,310.7 110.6,468.8 459.0,508.4" fill="#807a68" stroke="#2e2a20" stroke-width="0.8" stroke-linejoin="round" />
<line x1="188.6" y1="43.5" x2="186.8" y2="420.0" stroke="#9a9a9a" stroke-width="1.0" stroke-dasharray="4,1.3,1,1.3"/>
<line x1="206.4" y1="43.2" x2="204.6" y2="420.0" stroke="#9a9a9a" stroke-width="1.0" stroke-dasharray="4,1.3,1,1.3"/>
<line x1="162.5" y1="93.0" x2="160.6" y2="420.0" stroke="#9a9a9a" stroke-width="1.0" stroke-dasharray="4,1.3,1,1.3"/>
<line x1="136.0" y1="143.0" x2="133.5" y2="492.5" stroke="#9a9a9a" stroke-width="1.0" stroke-dasharray="4,1.3,1,1.3"/>
<line x1="110.0" y1="192.5" x2="107.3" y2="541.3" stroke="#9a9a9a" stroke-width="1.0" stroke-dasharray="4,1.3,1,1.3"/>
<line x1="119.5" y1="199.5" x2="116.7" y2="548.2" stroke="#9a9a9a" stroke-width="1.0" stroke-dasharray="4,1.3,1,1.3"/>
<line x1="269.0" y1="90.0" x2="267.2" y2="420.0" stroke="#9a9a9a" stroke-width="1.0" stroke-dasharray="4,1.3,1,1.3"/>
<line x1="331.5" y1="138.0" x2="329.5" y2="487.5" stroke="#9a9a9a" stroke-width="1.0" stroke-dasharray="4,1.3,1,1.3"/>
<line x1="395.0" y1="184.0" x2="391.8" y2="531.7" stroke="#9a9a9a" stroke-width="1.0" stroke-dasharray="4,1.3,1,1.3"/>
<line x1="447.2" y1="236.6" x2="444.8" y2="585.3" stroke="#9a9a9a" stroke-width="1.0" stroke-dasharray="4,1.3,1,1.3"/>
<line x1="457.5" y1="230.0" x2="455.6" y2="579.2" stroke="#9a9a9a" stroke-width="1.0" stroke-dasharray="4,1.3,1,1.3"/>
<line x1="228.0" y1="212.0" x2="225.4" y2="561.0" stroke="#9a9a9a" stroke-width="1.0" stroke-dasharray="4,1.3,1,1.3"/>
<line x1="338.0" y1="225.0" x2="335.5" y2="572.3" stroke="#9a9a9a" stroke-width="1.0" stroke-dasharray="4,1.3,1,1.3"/>
<polygon points="190.5,182.0 197.0,191.5 194.7,259.0 146.5,351.2 101.3,349.0" fill="#8c6441" stroke="#24170c" stroke-width="0.6" stroke-linejoin="round" />
<polygon points="190.5,182.0 197.0,191.5 194.7,259.0 146.5,351.2 101.3,349.0" fill="url(#gL)" stroke="none" stroke-width="0.6" stroke-linejoin="round" />
<polygon points="190.5,182.0 197.5,195.0 114.3,349.5 101.3,349.0" fill="#a37650" stroke="none" stroke-width="0.6" stroke-linejoin="round" />
<line x1="195.0" y1="190.5" x2="109.8" y2="349.3" stroke="#24170c" stroke-width="0.9" />
<line x1="197.0" y1="193.5" x2="113.3" y2="349.5" stroke="#c99a6a" stroke-width="0.6" />
<polygon points="197.0,191.5 461.0,389.6 350.0,374.6 194.7,259.0" fill="#4e3b29" stroke="#24170c" stroke-width="0.6" stroke-linejoin="round" />
<polygon points="197.0,191.5 461.0,389.6 350.0,374.6 194.7,259.0" fill="url(#gR)" stroke="none" stroke-width="0.6" stroke-linejoin="round" />
<polygon points="190.5,182.0 476.8,391.8 461.0,389.6 197.0,191.5" fill="#a87a4e" stroke="#24170c" stroke-width="0.6" stroke-linejoin="round" />
<line x1="196.0" y1="194.0" x2="458.0" y2="389.1" stroke="#24170c" stroke-width="1.0" />
<line x1="195.5" y1="196.0" x2="455.0" y2="389.1" stroke="#8a6440" stroke-width="0.6" />
<polygon points="101.3,349.0 476.8,391.8 461.0,389.6 146.5,351.2" fill="#b0814f" stroke="#24170c" stroke-width="0.5" stroke-linejoin="round" />
<polygon points="101.3,349.0 476.8,391.8 477.3,459.8 100.4,418.1" fill="#72543a" stroke="#24170c" stroke-width="0.8" stroke-linejoin="round" />
<polygon points="101.3,349.0 476.8,391.8 477.3,459.8 100.4,418.1" fill="url(#gH)" stroke="none" stroke-width="0.6" stroke-linejoin="round" />
<line x1="101.8" y1="351.0" x2="476.8" y2="393.8" stroke="#b88556" stroke-width="1.3" />
<path d="M100.6,364.2 L119.6,364.5 Q121.0,365.6 119.6,366.8 L100.6,366.6" fill="#9a6e48" stroke="#140a04" stroke-width="0.9"/>
<path d="M100.6,383.9 L119.6,384.2 Q121.0,385.3 119.6,386.5 L100.6,386.3" fill="#9a6e48" stroke="#140a04" stroke-width="0.9"/>
<path d="M100.6,403.9 L119.6,404.2 Q121.0,405.3 119.6,406.5 L100.6,406.3" fill="#9a6e48" stroke="#140a04" stroke-width="0.9"/>
<path d="M477.3,404.9 L458.3,404.59999999999997 Q456.90000000000003,406.3 458.3,407.5 L477.3,407.3" fill="#9a6e48" stroke="#140a04" stroke-width="0.9"/>
<path d="M477.3,424.09999999999997 L458.3,423.79999999999995 Q456.90000000000003,425.5 458.3,426.7 L477.3,426.5" fill="#9a6e48" stroke="#140a04" stroke-width="0.9"/>
<path d="M477.3,443.3 L458.3,443.0 Q456.90000000000003,444.70000000000005 458.3,445.90000000000003 L477.3,445.70000000000005" fill="#9a6e48" stroke="#140a04" stroke-width="0.9"/>
<clipPath id="glassL"><polygon points="195.5,106.0 112.0,264.0 461.0,303.0"/></clipPath>
<polygon points="112.0,264.0 461.0,303.0 460.5,305.6 112.2,267.0" fill="#f6f6ee" stroke="#4a4a40" stroke-width="0.6" stroke-linejoin="round" />
<polygon points="195.5,106.0 112.0,264.0 461.0,303.0" fill="#eaeadc" stroke="none" stroke-width="0.6" stroke-linejoin="round" />
<g clip-path="url(#glassL)">
<polygon points="190.5,182.0 197.0,191.5 194.7,259.0 146.5,351.2 101.3,349.0" fill="#c8aa91" stroke="#6a5a4a" stroke-width="0.6" stroke-linejoin="round" />
<polygon points="190.5,182.0 197.0,191.5 194.7,259.0 146.5,351.2 101.3,349.0" fill="url(#gL)" stroke="none" stroke-width="0.6" stroke-linejoin="round" />
<polygon points="190.5,182.0 197.5,195.0 114.3,349.5 101.3,349.0" fill="#d2b49a" stroke="none" stroke-width="0.6" stroke-linejoin="round" />
<line x1="195.0" y1="190.5" x2="109.8" y2="349.3" stroke="#6a5a4a" stroke-width="0.9" />
<line x1="197.0" y1="193.5" x2="113.3" y2="349.5" stroke="#e0c0a0" stroke-width="0.6" />
<polygon points="197.0,191.5 461.0,389.6 350.0,374.6 194.7,259.0" fill="#827669" stroke="#6a5a4a" stroke-width="0.6" stroke-linejoin="round" />
<polygon points="197.0,191.5 461.0,389.6 350.0,374.6 194.7,259.0" fill="url(#gR)" stroke="none" stroke-width="0.6" stroke-linejoin="round" />
<polygon points="190.5,182.0 476.8,391.8 461.0,389.6 197.0,191.5" fill="#d0b092" stroke="#6a5a4a" stroke-width="0.6" stroke-linejoin="round" />
<line x1="196.0" y1="194.0" x2="458.0" y2="389.1" stroke="#6a5a4a" stroke-width="1.0" />
<line x1="195.5" y1="196.0" x2="455.0" y2="389.1" stroke="#a08a78" stroke-width="0.6" />
</g>
<polygon points="195.5,106.0 112.0,264.0 461.0,303.0" fill="none" stroke="#26261e" stroke-width="0.8" stroke-linejoin="round" />
<line x1="113.0" y1="265.3" x2="459.0" y2="304.3" stroke="#ffffff" stroke-width="0.8" />
<line x1="188.6" y1="43.5" x2="188.2" y2="121.0" stroke="#9a9a9a" stroke-width="1.0" stroke-dasharray="4,1.3,1,1.3"/>
<line x1="206.4" y1="43.2" x2="206.0" y2="120.0" stroke="#9a9a9a" stroke-width="1.0" stroke-dasharray="4,1.3,1,1.3"/>
<line x1="162.5" y1="93.0" x2="162.0" y2="170.5" stroke="#9a9a9a" stroke-width="1.0" stroke-dasharray="4,1.3,1,1.3"/>
<line x1="136.0" y1="143.0" x2="135.4" y2="221.0" stroke="#9a9a9a" stroke-width="1.0" stroke-dasharray="4,1.3,1,1.3"/>
<line x1="110.0" y1="192.5" x2="109.4" y2="269.9" stroke="#9a9a9a" stroke-width="1.0" stroke-dasharray="4,1.3,1,1.3"/>
<line x1="119.5" y1="199.5" x2="118.9" y2="276.9" stroke="#9a9a9a" stroke-width="1.0" stroke-dasharray="4,1.3,1,1.3"/>
<line x1="269.0" y1="90.0" x2="268.6" y2="167.5" stroke="#9a9a9a" stroke-width="1.0" stroke-dasharray="4,1.3,1,1.3"/>
<line x1="331.5" y1="138.0" x2="331.1" y2="213.5" stroke="#9a9a9a" stroke-width="1.0" stroke-dasharray="4,1.3,1,1.3"/>
<line x1="395.0" y1="184.0" x2="394.3" y2="260.0" stroke="#9a9a9a" stroke-width="1.0" stroke-dasharray="4,1.3,1,1.3"/>
<line x1="447.2" y1="236.6" x2="446.7" y2="313.9" stroke="#9a9a9a" stroke-width="1.0" stroke-dasharray="4,1.3,1,1.3"/>
<line x1="457.5" y1="230.0" x2="457.1" y2="307.3" stroke="#9a9a9a" stroke-width="1.0" stroke-dasharray="4,1.3,1,1.3"/>
<line x1="228.0" y1="212.0" x2="227.4" y2="290.0" stroke="#9a9a9a" stroke-width="1.0" stroke-dasharray="4,1.3,1,1.3"/>
<line x1="338.0" y1="225.0" x2="337.4" y2="302.0" stroke="#9a9a9a" stroke-width="1.0" stroke-dasharray="4,1.3,1,1.3"/>
<path d="M192.4,47.2 L478.8,260.4 L101.5,217.0 Z M196.6,61.0 L116.0,212.7 L451.6,250.6 Z" fill="#f5f2a8" fill-rule="evenodd" stroke="#3e3b20" stroke-width="0.8" stroke-linejoin="round"/>
<polygon points="196.6,61.0 451.6,250.6 449.5,252.6 195.5,63.5" fill="#8f8848" stroke="#3e3b20" stroke-width="0.4" stroke-linejoin="round" />
<polygon points="101.5,217.0 478.8,260.4 478.0,262.6 102.0,219.3" fill="#a59c55" stroke="#3e3b20" stroke-width="0.4" stroke-linejoin="round" />
<line x1="192.4" y1="47.2" x2="196.6" y2="61.0" stroke="#3e3b20" stroke-width="0.7" />
<line x1="478.8" y1="260.4" x2="451.6" y2="250.6" stroke="#3e3b20" stroke-width="0.7" />
<line x1="101.5" y1="217.0" x2="116.0" y2="212.7" stroke="#3e3b20" stroke-width="0.7" />
<ellipse cx="188" cy="61.2" rx="2.5" ry="1.5" fill="#cfc98a" stroke="#1e1e12" stroke-width="0.9"/><ellipse cx="188.3" cy="61.400000000000006" rx="1" ry="0.6" fill="#f6f2b8"/>
<ellipse cx="206.2" cy="60" rx="2.5" ry="1.5" fill="#cfc98a" stroke="#1e1e12" stroke-width="0.9"/><ellipse cx="206.5" cy="60.2" rx="1" ry="0.6" fill="#f6f2b8"/>
<ellipse cx="162" cy="110.5" rx="2.5" ry="1.5" fill="#cfc98a" stroke="#1e1e12" stroke-width="0.9"/><ellipse cx="162.3" cy="110.7" rx="1" ry="0.6" fill="#f6f2b8"/>
<ellipse cx="135.5" cy="161" rx="2.5" ry="1.5" fill="#cfc98a" stroke="#1e1e12" stroke-width="0.9"/><ellipse cx="135.8" cy="161.2" rx="1" ry="0.6" fill="#f6f2b8"/>
<ellipse cx="110" cy="209.9" rx="2.5" ry="1.5" fill="#cfc98a" stroke="#1e1e12" stroke-width="0.9"/><ellipse cx="110.3" cy="210.1" rx="1" ry="0.6" fill="#f6f2b8"/>
<ellipse cx="119.5" cy="216.9" rx="2.5" ry="1.5" fill="#cfc98a" stroke="#1e1e12" stroke-width="0.9"/><ellipse cx="119.8" cy="217.1" rx="1" ry="0.6" fill="#f6f2b8"/>
<ellipse cx="269" cy="107.5" rx="2.5" ry="1.5" fill="#cfc98a" stroke="#1e1e12" stroke-width="0.9"/><ellipse cx="269.3" cy="107.7" rx="1" ry="0.6" fill="#f6f2b8"/>
<ellipse cx="331.5" cy="153.5" rx="2.5" ry="1.5" fill="#cfc98a" stroke="#1e1e12" stroke-width="0.9"/><ellipse cx="331.8" cy="153.7" rx="1" ry="0.6" fill="#f6f2b8"/>
<ellipse cx="395" cy="200" rx="2.5" ry="1.5" fill="#cfc98a" stroke="#1e1e12" stroke-width="0.9"/><ellipse cx="395.3" cy="200.2" rx="1" ry="0.6" fill="#f6f2b8"/>
<ellipse cx="447.2" cy="253.9" rx="2.5" ry="1.5" fill="#cfc98a" stroke="#1e1e12" stroke-width="0.9"/><ellipse cx="447.5" cy="254.1" rx="1" ry="0.6" fill="#f6f2b8"/>
<ellipse cx="457.5" cy="247.3" rx="2.5" ry="1.5" fill="#cfc98a" stroke="#1e1e12" stroke-width="0.9"/><ellipse cx="457.8" cy="247.5" rx="1" ry="0.6" fill="#f6f2b8"/>
<ellipse cx="228" cy="230" rx="2.5" ry="1.5" fill="#cfc98a" stroke="#1e1e12" stroke-width="0.9"/><ellipse cx="228.3" cy="230.2" rx="1" ry="0.6" fill="#f6f2b8"/>
<ellipse cx="338" cy="242" rx="2.5" ry="1.5" fill="#cfc98a" stroke="#1e1e12" stroke-width="0.9"/><ellipse cx="338.3" cy="242.2" rx="1" ry="0.6" fill="#f6f2b8"/>
<g transform="translate(188.6,31.5) scale(1.0)"><path d="M-3.6,1.6 Q-3.6,0 0,0 Q3.6,0 3.6,1.6 L3.0,2.8 L1.7,4.6 L1.6,9 L0,12.4 L-1.6,9 L-1.7,4.6 L-3.0,2.8 Z" fill="#141414"/><path d="M-0.5,2.2 L0.5,2.2 L0.4,6 L-0.4,6Z" fill="#9a9a88"/></g>
<g transform="translate(206.4,31.2) scale(1.0)"><path d="M-3.6,1.6 Q-3.6,0 0,0 Q3.6,0 3.6,1.6 L3.0,2.8 L1.7,4.6 L1.6,9 L0,12.4 L-1.6,9 L-1.7,4.6 L-3.0,2.8 Z" fill="#141414"/><path d="M-0.5,2.2 L0.5,2.2 L0.4,6 L-0.4,6Z" fill="#9a9a88"/></g>
<g transform="translate(162.5,81) scale(1.0)"><path d="M-3.6,1.6 Q-3.6,0 0,0 Q3.6,0 3.6,1.6 L3.0,2.8 L1.7,4.6 L1.6,9 L0,12.4 L-1.6,9 L-1.7,4.6 L-3.0,2.8 Z" fill="#141414"/><path d="M-0.5,2.2 L0.5,2.2 L0.4,6 L-0.4,6Z" fill="#9a9a88"/></g>
<g transform="translate(136,131) scale(1.0)"><path d="M-3.6,1.6 Q-3.6,0 0,0 Q3.6,0 3.6,1.6 L3.0,2.8 L1.7,4.6 L1.6,9 L0,12.4 L-1.6,9 L-1.7,4.6 L-3.0,2.8 Z" fill="#141414"/><path d="M-0.5,2.2 L0.5,2.2 L0.4,6 L-0.4,6Z" fill="#9a9a88"/></g>
<g transform="translate(110,180.5) scale(1.0)"><path d="M-3.6,1.6 Q-3.6,0 0,0 Q3.6,0 3.6,1.6 L3.0,2.8 L1.7,4.6 L1.6,9 L0,12.4 L-1.6,9 L-1.7,4.6 L-3.0,2.8 Z" fill="#141414"/><path d="M-0.5,2.2 L0.5,2.2 L0.4,6 L-0.4,6Z" fill="#9a9a88"/></g>
<g transform="translate(119.5,187.5) scale(1.0)"><path d="M-3.6,1.6 Q-3.6,0 0,0 Q3.6,0 3.6,1.6 L3.0,2.8 L1.7,4.6 L1.6,9 L0,12.4 L-1.6,9 L-1.7,4.6 L-3.0,2.8 Z" fill="#141414"/><path d="M-0.5,2.2 L0.5,2.2 L0.4,6 L-0.4,6Z" fill="#9a9a88"/></g>
<g transform="translate(269,78) scale(1.0)"><path d="M-3.6,1.6 Q-3.6,0 0,0 Q3.6,0 3.6,1.6 L3.0,2.8 L1.7,4.6 L1.6,9 L0,12.4 L-1.6,9 L-1.7,4.6 L-3.0,2.8 Z" fill="#141414"/><path d="M-0.5,2.2 L0.5,2.2 L0.4,6 L-0.4,6Z" fill="#9a9a88"/></g>
<g transform="translate(331.5,126) scale(1.0)"><path d="M-3.6,1.6 Q-3.6,0 0,0 Q3.6,0 3.6,1.6 L3.0,2.8 L1.7,4.6 L1.6,9 L0,12.4 L-1.6,9 L-1.7,4.6 L-3.0,2.8 Z" fill="#141414"/><path d="M-0.5,2.2 L0.5,2.2 L0.4,6 L-0.4,6Z" fill="#9a9a88"/></g>
<g transform="translate(395,172) scale(1.0)"><path d="M-3.6,1.6 Q-3.6,0 0,0 Q3.6,0 3.6,1.6 L3.0,2.8 L1.7,4.6 L1.6,9 L0,12.4 L-1.6,9 L-1.7,4.6 L-3.0,2.8 Z" fill="#141414"/><path d="M-0.5,2.2 L0.5,2.2 L0.4,6 L-0.4,6Z" fill="#9a9a88"/></g>
<g transform="translate(447.2,224.6) scale(1.0)"><path d="M-3.6,1.6 Q-3.6,0 0,0 Q3.6,0 3.6,1.6 L3.0,2.8 L1.7,4.6 L1.6,9 L0,12.4 L-1.6,9 L-1.7,4.6 L-3.0,2.8 Z" fill="#141414"/><path d="M-0.5,2.2 L0.5,2.2 L0.4,6 L-0.4,6Z" fill="#9a9a88"/></g>
<g transform="translate(457.5,218) scale(1.0)"><path d="M-3.6,1.6 Q-3.6,0 0,0 Q3.6,0 3.6,1.6 L3.0,2.8 L1.7,4.6 L1.6,9 L0,12.4 L-1.6,9 L-1.7,4.6 L-3.0,2.8 Z" fill="#141414"/><path d="M-0.5,2.2 L0.5,2.2 L0.4,6 L-0.4,6Z" fill="#9a9a88"/></g>
<g transform="translate(228,200) scale(1.0)"><path d="M-3.6,1.6 Q-3.6,0 0,0 Q3.6,0 3.6,1.6 L3.0,2.8 L1.7,4.6 L1.6,9 L0,12.4 L-1.6,9 L-1.7,4.6 L-3.0,2.8 Z" fill="#141414"/><path d="M-0.5,2.2 L0.5,2.2 L0.4,6 L-0.4,6Z" fill="#9a9a88"/></g>
<g transform="translate(338,213) scale(1.0)"><path d="M-3.6,1.6 Q-3.6,0 0,0 Q3.6,0 3.6,1.6 L3.0,2.8 L1.7,4.6 L1.6,9 L0,12.4 L-1.6,9 L-1.7,4.6 L-3.0,2.8 Z" fill="#141414"/><path d="M-0.5,2.2 L0.5,2.2 L0.4,6 L-0.4,6Z" fill="#9a9a88"/></g>
<polygon points="44.5,347.9 59.0,359.8 58.6,361.8 39.6,360.9 39.4,359.0" fill="#5e3c20" stroke="#1a0e06" stroke-width="0.6" stroke-linejoin="round" />
<polygon points="44.5,347.9 59.0,359.8 39.4,359.0" fill="#946238" stroke="#1a0e06" stroke-width="0.6" stroke-linejoin="round" />
<line x1="43.0" y1="352.0" x2="55.0" y2="359.0" stroke="#b88050" stroke-width="0.6" stroke-opacity="0.6"/>
<polygon points="44.5,367.9 59.0,379.8 58.6,381.8 39.6,380.9 39.4,379.0" fill="#5e3c20" stroke="#1a0e06" stroke-width="0.6" stroke-linejoin="round" />
<polygon points="44.5,367.9 59.0,379.8 39.4,379.0" fill="#946238" stroke="#1a0e06" stroke-width="0.6" stroke-linejoin="round" />
<line x1="43.0" y1="372.0" x2="55.0" y2="379.0" stroke="#b88050" stroke-width="0.6" stroke-opacity="0.6"/>
<polygon points="44.5,387.9 59.0,399.8 58.6,401.8 39.6,400.9 39.4,399.0" fill="#5e3c20" stroke="#1a0e06" stroke-width="0.6" stroke-linejoin="round" />
<polygon points="44.5,387.9 59.0,399.8 39.4,399.0" fill="#946238" stroke="#1a0e06" stroke-width="0.6" stroke-linejoin="round" />
<line x1="43.0" y1="392.0" x2="55.0" y2="399.0" stroke="#b88050" stroke-width="0.6" stroke-opacity="0.6"/>
<g transform="translate(532.4,216.6) scale(1.0)"><path d="M-1.7,-3.6 L-1.7,-8.5 L0,-12 L1.7,-8.5 L1.7,-3.6 Z" fill="#141414"/><path d="M-3.6,-0.8 Q-3.4,-3.8 0,-3.9 Q3.4,-3.8 3.6,-0.8 Q3.4,0.2 0,0.2 Q-3.4,0.2 -3.6,-0.8Z" fill="#efeccc" stroke="#2a2a1a" stroke-width="0.7"/><path d="M-1.2,-3.7 L1.2,-3.7 L0.8,-2.2 L-0.8,-2.2Z" fill="#555"/></g>
<g transform="translate(539.3,211) scale(1.0)"><path d="M-1.7,-3.6 L-1.7,-8.5 L0,-12 L1.7,-8.5 L1.7,-3.6 Z" fill="#141414"/><path d="M-3.6,-0.8 Q-3.4,-3.8 0,-3.9 Q3.4,-3.8 3.6,-0.8 Q3.4,0.2 0,0.2 Q-3.4,0.2 -3.6,-0.8Z" fill="#efeccc" stroke="#2a2a1a" stroke-width="0.7"/><path d="M-1.2,-3.7 L1.2,-3.7 L0.8,-2.2 L-0.8,-2.2Z" fill="#555"/></g>
<g transform="translate(568.9,258) scale(1.0)"><path d="M-1.7,-3.6 L-1.7,-8.5 L0,-12 L1.7,-8.5 L1.7,-3.6 Z" fill="#141414"/><path d="M-3.6,-0.8 Q-3.4,-3.8 0,-3.9 Q3.4,-3.8 3.6,-0.8 Q3.4,0.2 0,0.2 Q-3.4,0.2 -3.6,-0.8Z" fill="#efeccc" stroke="#2a2a1a" stroke-width="0.7"/><path d="M-1.2,-3.7 L1.2,-3.7 L0.8,-2.2 L-0.8,-2.2Z" fill="#555"/></g>
<g transform="translate(605.3,299.6) scale(1.0)"><path d="M-1.7,-3.6 L-1.7,-8.5 L0,-12 L1.7,-8.5 L1.7,-3.6 Z" fill="#141414"/><path d="M-3.6,-0.8 Q-3.4,-3.8 0,-3.9 Q3.4,-3.8 3.6,-0.8 Q3.4,0.2 0,0.2 Q-3.4,0.2 -3.6,-0.8Z" fill="#efeccc" stroke="#2a2a1a" stroke-width="0.7"/><path d="M-1.2,-3.7 L1.2,-3.7 L0.8,-2.2 L-0.8,-2.2Z" fill="#555"/></g>
<g transform="translate(641.6,340) scale(1.0)"><path d="M-1.7,-3.6 L-1.7,-8.5 L0,-12 L1.7,-8.5 L1.7,-3.6 Z" fill="#141414"/><path d="M-3.6,-0.8 Q-3.4,-3.8 0,-3.9 Q3.4,-3.8 3.6,-0.8 Q3.4,0.2 0,0.2 Q-3.4,0.2 -3.6,-0.8Z" fill="#efeccc" stroke="#2a2a1a" stroke-width="0.7"/><path d="M-1.2,-3.7 L1.2,-3.7 L0.8,-2.2 L-0.8,-2.2Z" fill="#555"/></g>
<g transform="translate(659.7,340.6) scale(1.0)"><path d="M-1.7,-3.6 L-1.7,-8.5 L0,-12 L1.7,-8.5 L1.7,-3.6 Z" fill="#141414"/><path d="M-3.6,-0.8 Q-3.4,-3.8 0,-3.9 Q3.4,-3.8 3.6,-0.8 Q3.4,0.2 0,0.2 Q-3.4,0.2 -3.6,-0.8Z" fill="#efeccc" stroke="#2a2a1a" stroke-width="0.7"/><path d="M-1.2,-3.7 L1.2,-3.7 L0.8,-2.2 L-0.8,-2.2Z" fill="#555"/></g>
<g transform="translate(699.3,310.3) scale(1.0)"><path d="M-1.7,-3.6 L-1.7,-8.5 L0,-12 L1.7,-8.5 L1.7,-3.6 Z" fill="#141414"/><path d="M-3.6,-0.8 Q-3.4,-3.8 0,-3.9 Q3.4,-3.8 3.6,-0.8 Q3.4,0.2 0,0.2 Q-3.4,0.2 -3.6,-0.8Z" fill="#efeccc" stroke="#2a2a1a" stroke-width="0.7"/><path d="M-1.2,-3.7 L1.2,-3.7 L0.8,-2.2 L-0.8,-2.2Z" fill="#555"/></g>
<g transform="translate(677.2,329.3) scale(1.0)"><path d="M-1.7,-3.6 L-1.7,-8.5 L0,-12 L1.7,-8.5 L1.7,-3.6 Z" fill="#141414"/><path d="M-3.6,-0.8 Q-3.4,-3.8 0,-3.9 Q3.4,-3.8 3.6,-0.8 Q3.4,0.2 0,0.2 Q-3.4,0.2 -3.6,-0.8Z" fill="#efeccc" stroke="#2a2a1a" stroke-width="0.7"/><path d="M-1.2,-3.7 L1.2,-3.7 L0.8,-2.2 L-0.8,-2.2Z" fill="#555"/></g>
<g transform="translate(765.1,260.2) scale(1.0)"><path d="M-1.7,-3.6 L-1.7,-8.5 L0,-12 L1.7,-8.5 L1.7,-3.6 Z" fill="#141414"/><path d="M-3.6,-0.8 Q-3.4,-3.8 0,-3.9 Q3.4,-3.8 3.6,-0.8 Q3.4,0.2 0,0.2 Q-3.4,0.2 -3.6,-0.8Z" fill="#efeccc" stroke="#2a2a1a" stroke-width="0.7"/><path d="M-1.2,-3.7 L1.2,-3.7 L0.8,-2.2 L-0.8,-2.2Z" fill="#555"/></g>
<g transform="translate(859,173.6) scale(1.0)"><path d="M-1.7,-3.6 L-1.7,-8.5 L0,-12 L1.7,-8.5 L1.7,-3.6 Z" fill="#141414"/><path d="M-3.6,-0.8 Q-3.4,-3.8 0,-3.9 Q3.4,-3.8 3.6,-0.8 Q3.4,0.2 0,0.2 Q-3.4,0.2 -3.6,-0.8Z" fill="#efeccc" stroke="#2a2a1a" stroke-width="0.7"/><path d="M-1.2,-3.7 L1.2,-3.7 L0.8,-2.2 L-0.8,-2.2Z" fill="#555"/></g>
<g transform="translate(871.5,178.5) scale(1.0)"><path d="M-1.7,-3.6 L-1.7,-8.5 L0,-12 L1.7,-8.5 L1.7,-3.6 Z" fill="#141414"/><path d="M-3.6,-0.8 Q-3.4,-3.8 0,-3.9 Q3.4,-3.8 3.6,-0.8 Q3.4,0.2 0,0.2 Q-3.4,0.2 -3.6,-0.8Z" fill="#efeccc" stroke="#2a2a1a" stroke-width="0.7"/><path d="M-1.2,-3.7 L1.2,-3.7 L0.8,-2.2 L-0.8,-2.2Z" fill="#555"/></g>
<g transform="translate(832.3,209) scale(1.0)"><path d="M-1.7,-3.6 L-1.7,-8.5 L0,-12 L1.7,-8.5 L1.7,-3.6 Z" fill="#141414"/><path d="M-3.6,-0.8 Q-3.4,-3.8 0,-3.9 Q3.4,-3.8 3.6,-0.8 Q3.4,0.2 0,0.2 Q-3.4,0.2 -3.6,-0.8Z" fill="#efeccc" stroke="#2a2a1a" stroke-width="0.7"/><path d="M-1.2,-3.7 L1.2,-3.7 L0.8,-2.2 L-0.8,-2.2Z" fill="#555"/></g>
<g transform="translate(846.6,199) scale(1.0)"><path d="M-1.7,-3.6 L-1.7,-8.5 L0,-12 L1.7,-8.5 L1.7,-3.6 Z" fill="#141414"/><path d="M-3.6,-0.8 Q-3.4,-3.8 0,-3.9 Q3.4,-3.8 3.6,-0.8 Q3.4,0.2 0,0.2 Q-3.4,0.2 -3.6,-0.8Z" fill="#efeccc" stroke="#2a2a1a" stroke-width="0.7"/><path d="M-1.2,-3.7 L1.2,-3.7 L0.8,-2.2 L-0.8,-2.2Z" fill="#555"/></g>
<path d="M523.1,189.3 L890.2,145.6 L649.2,331.3 Z M540.8,193.9 L650.9,318.4 L867.2,153.9 Z" fill="#dcd98f" fill-rule="evenodd" stroke="#2e2c18" stroke-width="0.7" stroke-linejoin="round"/>
<polygon points="523.1,189.3 649.2,331.3 650.4,328.7 526.1,189.9" fill="#9c9552" stroke="#2e2c18" stroke-width="0.4" stroke-linejoin="round" />
<polygon points="649.2,331.3 890.2,145.6 890.5,148.0 650.0,334.0" fill="#9c9552" stroke="#2e2c18" stroke-width="0.4" stroke-linejoin="round" />
<polygon points="523.1,189.3 535.0,194.0 533.0,196.5 523.5,191.8" fill="#a9a15e" stroke="none" stroke-width="0.6" stroke-linejoin="round" />
<line x1="649.2" y1="331.3" x2="650.9" y2="318.4" stroke="#2e2c18" stroke-width="0.7" />
<line x1="890.2" y1="145.6" x2="867.2" y2="153.9" stroke="#2e2c18" stroke-width="0.6" />
<polygon points="677.6,311.5 677.0,310.7 674.4,307.4 687.4,297.3 690.0,300.7 690.6,301.5" fill="#ffffff" stroke="none" stroke-width="0.6" stroke-linejoin="round" />
<polyline points="677.0,310.7 674.4,307.4 687.4,297.3 690.0,300.7" fill="none" stroke="#2e2c18" stroke-width="0.8" />
<polygon points="674.4,307.4 687.4,297.3 687.9,298.9 674.9,309.0" fill="#9c9552" stroke="none" stroke-width="0.6" stroke-linejoin="round" />
<polygon points="847.6,180.5 847.0,179.7 844.4,176.4 857.4,166.4 860.0,169.7 860.6,170.5" fill="#ffffff" stroke="none" stroke-width="0.6" stroke-linejoin="round" />
<polyline points="847.0,179.7 844.4,176.4 857.4,166.4 860.0,169.7" fill="none" stroke="#2e2c18" stroke-width="0.8" />
<polygon points="844.4,176.4 857.4,166.4 857.9,168.0 844.9,178.0" fill="#9c9552" stroke="none" stroke-width="0.6" stroke-linejoin="round" />
<ellipse cx="533" cy="194.3" rx="2.0" ry="1.15" fill="#1a1a12"/>
<ellipse cx="540.5" cy="188" rx="2.0" ry="1.15" fill="#1a1a12"/>
<ellipse cx="569.2" cy="235" rx="2.0" ry="1.15" fill="#1a1a12"/>
<ellipse cx="605.9" cy="276.2" rx="2.0" ry="1.15" fill="#1a1a12"/>
<ellipse cx="642.2" cy="316.7" rx="2.0" ry="1.15" fill="#1a1a12"/>
<ellipse cx="660.3" cy="317.3" rx="2.0" ry="1.15" fill="#1a1a12"/>
<ellipse cx="699.3" cy="287.5" rx="2.0" ry="1.15" fill="#1a1a12"/>
<ellipse cx="765.5" cy="236.7" rx="2.0" ry="1.15" fill="#1a1a12"/>
<ellipse cx="832.3" cy="185.4" rx="2.0" ry="1.15" fill="#1a1a12"/>
<ellipse cx="859.7" cy="150.5" rx="2.0" ry="1.15" fill="#1a1a12"/>
<ellipse cx="871.5" cy="155.5" rx="2.0" ry="1.15" fill="#1a1a12"/>
<g transform="translate(682.4,319)"><path d="M-11.8,3.7 L0.3,-6.3 L10.6,-3.7 L12,0.5 L9,3 L5,7 L1.5,6.5 L-1.1,5.6 L-9.9,4.4 Z" fill="#e2de9a" stroke="#222" stroke-width="0.8"/><path d="M3,0 Q6,-2.5 9,0 L8,3.5 Q5,5 3,3 Z" fill="#8a8450" stroke="#222" stroke-width="0.5"/><circle cx="-3" cy="1" r="1.1" fill="#111"/><circle cx="0.5" cy="-4.2" r="1.1" fill="#111"/><circle cx="7" cy="-3.2" r="1" fill="#111"/></g>
<g transform="translate(852.5,190.5)"><path d="M-11.8,3.7 L0.3,-6.3 L10.6,-3.7 L12,0.5 L9,3 L5,7 L1.5,6.5 L-1.1,5.6 L-9.9,4.4 Z" fill="#e2de9a" stroke="#222" stroke-width="0.8"/><path d="M3,0 Q6,-2.5 9,0 L8,3.5 Q5,5 3,3 Z" fill="#8a8450" stroke="#222" stroke-width="0.5"/><circle cx="-3" cy="1" r="1.1" fill="#111"/><circle cx="0.5" cy="-4.2" r="1.1" fill="#111"/><circle cx="7" cy="-3.2" r="1" fill="#111"/></g>
<polygon points="536.0,104.8 652.0,235.5 875.0,65.3 876.0,67.5 652.5,238.5 535.5,107.0" fill="#fafaf4" stroke="#3a3a32" stroke-width="0.6" stroke-linejoin="round" />
<polygon points="536.0,104.8 875.0,65.3 652.0,235.5" fill="#ebebdd" stroke="none" stroke-width="0" stroke-linejoin="round" />
<clipPath id="glassTR"><polygon points="536.0,104.8 875.0,65.3 652.0,235.5"/></clipPath>
<g clip-path="url(#glassTR)">
<polygon points="523.1,187.6 890.2,145.6 867.2,153.9 538.5,194.2" fill="#d3d59a" stroke="none" stroke-width="0" stroke-linejoin="round" fill-opacity="0.85"/>
<line x1="523.1" y1="187.6" x2="890.2" y2="145.6" stroke="#a8aa70" stroke-width="0.7" />
</g>
<polygon points="536.0,104.8 875.0,65.3 652.0,235.5" fill="none" stroke="#2a2a22" stroke-width="0.7" stroke-linejoin="round" />
<line x1="536.5" y1="107.0" x2="651.7" y2="237.3" stroke="#ffffff" stroke-width="0.8" />
<line x1="652.6" y1="237.3" x2="874.5" y2="67.5" stroke="#ffffff" stroke-width="0.8" />
<polygon points="472.5,56.7 484.6,57.8 600.4,188.0 599.5,231.7 472.3,90.7" fill="#5e432e" stroke="#1c120a" stroke-width="0.7" stroke-linejoin="round" />
<polygon points="472.5,56.7 484.6,57.8 600.4,188.0 599.5,231.7 472.3,90.7" fill="url(#gLR)" stroke="none" stroke-width="0.6" stroke-linejoin="round" />
<polygon points="476.0,56.9 484.6,57.8 600.4,188.0 599.8,203.0 487.0,75.0" fill="#8c6240" stroke="none" stroke-width="0.6" stroke-linejoin="round" />
<polygon points="476.0,56.9 484.6,57.8 600.4,188.0 599.8,203.0 487.0,75.0" fill="url(#gLR)" stroke="none" stroke-width="0.6" stroke-linejoin="round" />
<line x1="485.5" y1="63.0" x2="599.5" y2="193.0" stroke="#b88a5c" stroke-width="1.4" stroke-opacity="0.55"/>
<polygon points="472.5,56.7 484.6,57.8 600.4,188.0 599.5,231.7 472.3,90.7" fill="none" stroke="#1c120a" stroke-width="0.8" stroke-linejoin="round" />
<polygon points="472.4,65.5 478.5,69.3 478.5,71.7 472.4,68.1" fill="#b8895c" stroke="#1c120a" stroke-width="0.8" stroke-linejoin="round" />
<polygon points="472.4,84.5 478.5,88.3 478.5,90.7 472.4,87.1" fill="#b8895c" stroke="#1c120a" stroke-width="0.8" stroke-linejoin="round" />
<polygon points="599.7,199.5 593.5,195.7 593.5,198.1 599.7,202.1" fill="#b8895c" stroke="#1c120a" stroke-width="0.8" stroke-linejoin="round" />
<polygon points="599.7,217.5 593.5,213.7 593.5,216.1 599.7,220.1" fill="#b8895c" stroke="#1c120a" stroke-width="0.8" stroke-linejoin="round" />
<polygon points="722.5,194.4 938.7,27.3 950.0,22.2 960.1,20.7 962.0,24.0 962.0,55.7 721.0,238.0" fill="#6e4a30" stroke="#1c120a" stroke-width="0.7" stroke-linejoin="round" />
<polygon points="722.5,194.4 938.7,27.3 950.0,22.2 960.1,20.7 962.0,24.0 962.0,55.7 721.0,238.0" fill="url(#gRR)" stroke="none" stroke-width="0.6" stroke-linejoin="round" />
<polygon points="722.5,194.4 938.7,27.3 950.0,22.2 960.1,20.7 962.0,24.0 962.0,38.0 722.7,212.0" fill="#a8723f" stroke="none" stroke-width="0.6" stroke-linejoin="round" />
<polygon points="722.5,194.4 938.7,27.3 950.0,22.2 960.1,20.7 962.0,24.0 962.0,38.0 722.7,212.0" fill="url(#gRR)" stroke="none" stroke-width="0.6" stroke-linejoin="round" />
<line x1="724.0" y1="200.0" x2="956.0" y2="24.5" stroke="#dca46c" stroke-width="1.8" stroke-opacity="0.55"/>
<line x1="723.0" y1="207.5" x2="960.0" y2="30.5" stroke="#c48a52" stroke-width="1.2" stroke-opacity="0.5"/>
<line x1="722.7" y1="212.0" x2="962.0" y2="38.0" stroke="#3a2414" stroke-width="0.6" stroke-opacity="0.5"/>
<polygon points="722.5,194.4 938.7,27.3 950.0,22.2 960.1,20.7 962.0,24.0 962.0,55.7 721.0,238.0" fill="none" stroke="#1c120a" stroke-width="0.8" stroke-linejoin="round" />
<polygon points="962.0,30.5 956.5,31.5 956.5,33.9 962.0,32.9" fill="#b8895c" stroke="#1c120a" stroke-width="0.8" stroke-linejoin="round" />
<polygon points="962.0,48.5 956.5,49.5 956.5,51.9 962.0,50.9" fill="#b8895c" stroke="#1c120a" stroke-width="0.8" stroke-linejoin="round" />
<polygon points="721.3,212.0 727.0,210.4 727.0,212.8 721.3,214.4" fill="#b8895c" stroke="#1c120a" stroke-width="0.8" stroke-linejoin="round" />
<polygon points="721.3,228.0 727.0,226.4 727.0,228.8 721.3,230.4" fill="#b8895c" stroke="#1c120a" stroke-width="0.8" stroke-linejoin="round" />
<polygon points="525.6,50.0 891.6,6.5 891.6,41.0 873.9,46.2 839.5,50.5 552.0,85.0 525.8,86.5" fill="#86603c" stroke="#1c120a" stroke-width="0.7" stroke-linejoin="round" />
<polygon points="525.6,50.0 891.6,6.5 891.6,41.0 873.9,46.2 839.5,50.5 552.0,85.0 525.8,86.5" fill="url(#gT)" stroke="none" stroke-width="0.6" stroke-linejoin="round" />
<polygon points="525.6,50.0 534.0,49.0 539.5,55.0 539.5,85.4 525.8,86.5" fill="#7a5636" stroke="#1c120a" stroke-width="0.6" stroke-linejoin="round" />
<polygon points="525.6,50.0 534.0,49.0 539.5,55.0 539.5,85.4 525.8,86.5" fill="url(#gV)" stroke="none" stroke-width="0.6" stroke-linejoin="round" />
<polygon points="869.2,12.0 891.6,6.5 891.6,41.0 873.9,46.2 869.2,46.5" fill="#9a6c42" stroke="#1c120a" stroke-width="0.6" stroke-linejoin="round" />
<polygon points="869.2,12.0 891.6,6.5 891.6,41.0 873.9,46.2 869.2,46.5" fill="url(#gV)" stroke="none" stroke-width="0.6" stroke-linejoin="round" />
<polyline points="527.0,58.5 533.0,63.0 537.0,60.5" fill="none" stroke="#1c120a" stroke-width="1.1" />
<polyline points="528.0,60.5 533.0,64.0" fill="none" stroke="#c89a68" stroke-width="0.6" />
<polyline points="527.0,76.5 533.0,81.0 537.0,78.5" fill="none" stroke="#1c120a" stroke-width="1.1" />
<polyline points="528.0,78.5 533.0,82.0" fill="none" stroke="#c89a68" stroke-width="0.6" />
<polygon points="891.3,14.5 882.3,16.7 882.3,19.3 891.3,17.1" fill="#c29060" stroke="#1c120a" stroke-width="0.9" stroke-linejoin="round" />
<polygon points="891.3,33.5 882.3,35.7 882.3,38.3 891.3,36.1" fill="#c29060" stroke="#1c120a" stroke-width="0.9" stroke-linejoin="round" />
<polygon points="533.0,54.0 880.6,14.0 652.5,190.5" fill="#a9774a" stroke="#1c120a" stroke-width="0.8" stroke-linejoin="round" />
<polygon points="533.0,54.0 561.0,53.0 654.2,158.5 652.5,190.5" fill="#ad7a4c" stroke="#1c120a" stroke-width="0.6" stroke-linejoin="round" />
<polygon points="837.6,20.5 880.6,14.0 652.5,190.5 654.2,158.5" fill="#bb8c5c" stroke="#1c120a" stroke-width="0.6" stroke-linejoin="round" />
<polygon points="561.0,53.0 837.6,20.5 654.2,158.5" fill="#a97749" stroke="#1c120a" stroke-width="0.7" stroke-linejoin="round" />
<polygon points="533.0,54.0 880.6,14.0 652.5,190.5" fill="url(#gP)" stroke="none" stroke-width="0.6" stroke-linejoin="round" />
<polygon points="533.0,54.0 652.5,190.5 652.4,194.5 531.8,58.5" fill="#4a3020" stroke="#140a04" stroke-width="0.5" stroke-linejoin="round" />
<polygon points="652.5,190.5 880.6,14.0 880.8,17.5 652.6,194.0" fill="#7a5434" stroke="#1c120a" stroke-width="0.4" stroke-linejoin="round" />
<polygon points="644.4,190.5 657.4,193.6 651.2,200.4" fill="#6e4526" stroke="#140a04" stroke-width="0.9" stroke-linejoin="round" />
<polygon points="645.8,191.4 655.8,193.7 654.2,195.4 648.2,193.7" fill="#a06c40" stroke="none" stroke-width="0.6" stroke-linejoin="round" />
<polygon points="644.0,208.5 657.0,211.6 650.8,218.4" fill="#6e4526" stroke="#140a04" stroke-width="0.9" stroke-linejoin="round" />
<polygon points="645.4,209.4 655.4,211.7 653.8,213.4 647.8,211.7" fill="#a06c40" stroke="none" stroke-width="0.6" stroke-linejoin="round" />
<polygon points="525.6,50.0 872.0,9.2 874.0,12.0 869.0,15.5 532.0,55.5" fill="#b98a58" stroke="#1c120a" stroke-width="0.6" stroke-linejoin="round" />
<polygon points="528.0,51.5 870.0,11.2 869.0,13.2 530.0,54.0" fill="#e2b47c" stroke="none" stroke-width="0.6" stroke-linejoin="round" />
<path d="M627,432.5 L920,506.5 L919,512 L846,523 Q790,503 734,491 L656.5,479 L630,474 Z" fill="#684a33" stroke="#1c120a" stroke-width="0.7"/>
<path d="M627,432.5 L920,506.5 L919,512 L846,523 Q790,503 734,491 L656.5,479 L630,474 Z" fill="url(#gB)" transform=""/>
<polygon points="627.0,432.5 920.0,506.5 917.0,510.0 627.0,437.5" fill="#b38456" stroke="#1c120a" stroke-width="0.5" stroke-linejoin="round" />
<polygon points="605.0,393.0 946.4,477.7 946.4,481.6 628.5,408.3 606.0,396.5" fill="#7a5436" stroke="#1c120a" stroke-width="0.6" stroke-linejoin="round" />
<polygon points="605.0,393.0 946.4,477.7 943.0,478.8 612.0,396.0" fill="#b08050" stroke="#1c120a" stroke-width="0.4" stroke-linejoin="round" />
<polygon points="605.0,393.0 946.4,477.7 946.4,481.6 628.5,408.3 606.0,396.5" fill="url(#gB)" stroke="none" stroke-width="0.6" stroke-linejoin="round" />
<line x1="630.0" y1="404.5" x2="944.0" y2="480.2" stroke="#2a1a0c" stroke-width="0.6" />
<path d="M615.4,436.8 L621,435.4 L699.3,548.7 L698.5,584 Q655,501 616.8,474.5 Z" fill="#654630" stroke="#1c120a" stroke-width="0.7"/>
<polygon points="615.4,436.8 621.0,435.4 699.3,548.7 694.5,549.5" fill="#b7875a" stroke="#1c120a" stroke-width="0.5" stroke-linejoin="round" />
<line x1="617.5" y1="438.5" x2="695.5" y2="551.0" stroke="#d4a472" stroke-width="0.6" />
<polygon points="696.5,552.9 703.5,554.5 703.5,568.2 696.5,569.0" fill="#8a6444" stroke="#1c120a" stroke-width="0.6" stroke-linejoin="round" />
<polygon points="605.1,359.0 627.0,369.5 712.0,487.0 705.3,486.8 697.9,499.0" fill="#7a5434" stroke="#1c120a" stroke-width="0.7" stroke-linejoin="round" />
<polygon points="605.1,359.0 620.7,367.9 703.5,489.0 697.9,499.0" fill="#b58658" stroke="#1c120a" stroke-width="0.5" stroke-linejoin="round" />
<line x1="620.7" y1="368.0" x2="705.0" y2="488.0" stroke="#24160a" stroke-width="1.0" />
<polygon points="621.4,368.0 627.0,369.5 710.0,487.0 705.5,487.5" fill="#c4945f" stroke="#1c120a" stroke-width="0.4" stroke-linejoin="round" />
<polygon points="605.1,359.0 627.0,369.5 712.0,487.0 705.3,486.8 697.9,499.0" fill="url(#gS)" stroke="none" stroke-width="0.6" stroke-linejoin="round" />
<polygon points="697.9,499.0 705.3,486.8 921.4,442.6 946.4,444.5 946.4,448.8" fill="#7a5434" stroke="#1c120a" stroke-width="0.7" stroke-linejoin="round" />
<polygon points="699.0,498.5 705.3,488.5 921.4,444.2 946.4,446.2 946.4,448.8" fill="#b58658" stroke="#1c120a" stroke-width="0.5" stroke-linejoin="round" />
<line x1="704.0" y1="489.0" x2="944.0" y2="446.8" stroke="#24160a" stroke-width="0.9" />
<polygon points="697.9,499.0 705.3,486.8 921.4,442.6 946.4,444.5 946.4,448.8" fill="url(#gF)" stroke="none" stroke-width="0.6" stroke-linejoin="round" />
<path d="M717.3,550.5 L918.8,510.2 L918.8,549.2 Q818.7,560 718.6,590.8 Z" fill="#76573c" stroke="#1c120a" stroke-width="0.7"/>
<path d="M717.3,550.5 L918.8,510.2 L918.8,549.2 Q818.7,560 718.6,590.8 Z" fill="url(#gF)"/>
<polygon points="717.3,550.5 918.8,510.2 918.8,514.0 717.5,554.5" fill="#b7885a" stroke="#1c120a" stroke-width="0.5" stroke-linejoin="round" />
<polygon points="706.9,558.3 717.3,556.5 717.3,574.0 706.9,574.0" fill="#8a6444" stroke="#1c120a" stroke-width="0.6" stroke-linejoin="round" />
<polygon points="918.8,514.5 928.5,513.0 929.2,529.0 918.8,530.0" fill="#7e5c3e" stroke="#1c120a" stroke-width="0.6" stroke-linejoin="round" />
<polygon points="918.8,531.0 929.2,530.0 929.2,546.6 918.8,547.5" fill="#6e5036" stroke="#1c120a" stroke-width="0.6" stroke-linejoin="round" />
<polygon points="567.6,416.1 575.4,427.2 575.4,643.0 567.6,643.0" fill="#4a3322" stroke="#1c120a" stroke-width="0.7" stroke-linejoin="round" />
<polygon points="575.4,427.2 587.7,420.8 587.7,456.0 584.2,462.2 595.9,459.9 595.9,643.0 575.4,643.0" fill="#765538" stroke="#1c120a" stroke-width="0.7" stroke-linejoin="round" />
<polygon points="567.6,416.1 587.7,420.8 575.4,427.2" fill="#b7875a" stroke="#1c120a" stroke-width="0.7" stroke-linejoin="round" />
<polygon points="584.2,462.2 595.9,459.9 595.9,462.5 586.0,464.5" fill="#a67a50" stroke="none" stroke-width="0.6" stroke-linejoin="round" />
<polygon points="578.3,432.2 583.6,430.8 583.6,440.0 578.3,441.0" fill="#2a1c10" stroke="none" stroke-width="0.6" stroke-linejoin="round" />
<polygon points="578.8,437.5 582.4,436.6 581.0,442.5" fill="#c49464" stroke="none" stroke-width="0.6" stroke-linejoin="round" />
<polygon points="584.6,441.5 587.7,440.5 587.7,456.0 584.4,462.0" fill="#2a1c10" stroke="none" stroke-width="0.6" stroke-linejoin="round" />
<polygon points="635.4,560.2 643.3,572.1 643.3,643.0 635.4,643.0" fill="#4a3322" stroke="#1c120a" stroke-width="0.7" stroke-linejoin="round" />
<polygon points="643.3,572.1 663.1,567.9 663.1,643.0 643.3,643.0" fill="#7a5a3c" stroke="#1c120a" stroke-width="0.7" stroke-linejoin="round" />
<polygon points="635.4,560.2 656.2,556.0 663.1,567.9 643.3,572.1" fill="#a87a4e" stroke="#1c120a" stroke-width="0.7" stroke-linejoin="round" />
<polygon points="939.8,535.2 947.6,540.0 947.6,643.0 939.8,643.0" fill="#4a3322" stroke="#1c120a" stroke-width="0.7" stroke-linejoin="round" />
<polygon points="945.2,503.1 947.6,507.9 947.6,540.0 945.2,537.0" fill="#4a3322" stroke="#1c120a" stroke-width="0.6" stroke-linejoin="round" />
<polygon points="947.6,507.9 969.0,504.3 969.0,643.0 947.6,643.0" fill="#7a5a3c" stroke="#1c120a" stroke-width="0.7" stroke-linejoin="round" />
<polygon points="945.2,503.1 948.8,499.5 969.0,504.3 947.6,507.9" fill="#a87a4e" stroke="#1c120a" stroke-width="0.7" stroke-linejoin="round" />
<polygon points="575.4,427.2 587.7,420.8 587.7,456.0 584.2,462.2 595.9,459.9 595.9,643.0 575.4,643.0" fill="url(#gV)" stroke="none" stroke-width="0.6" stroke-linejoin="round" />
<polygon points="643.3,572.1 663.1,567.9 663.1,643.0 643.3,643.0" fill="url(#gV)" stroke="none" stroke-width="0.6" stroke-linejoin="round" />
<polygon points="947.6,507.9 969.0,504.3 969.0,643.0 947.6,643.0" fill="url(#gV)" stroke="none" stroke-width="0.6" stroke-linejoin="round" />
<polygon points="567.6,416.1 575.4,427.2 575.4,643.0 567.6,643.0" fill="url(#gV)" stroke="none" stroke-width="0.6" stroke-linejoin="round" />
<polygon points="635.4,560.2 643.3,572.1 643.3,643.0 635.4,643.0" fill="url(#gV)" stroke="none" stroke-width="0.6" stroke-linejoin="round" />
<polygon points="939.8,535.2 947.6,540.0 947.6,643.0 939.8,643.0" fill="url(#gV)" stroke="none" stroke-width="0.6" stroke-linejoin="round" />
<text x="274" y="40.6" font-size="7.5" fill="#3c3c3c" >Brass strip</text>
<text x="274" y="49.2" font-size="7.5" fill="#3c3c3c" >.093" x 1/2"</text>
<polyline points="273.0,37.2 251.0,37.2 234.0,75.0" fill="none" stroke="#6a6a6a" stroke-width="0.7" />
<text x="300" y="74.4" font-size="7.5" fill="#3c3c3c" >#6 x 3/8" FH brass woodscrew</text>
<polyline points="298.5,71.2 289.0,71.2 273.0,79.5" fill="none" stroke="#6a6a6a" stroke-width="0.7" />
<text x="305" y="95.2" font-size="7.5" fill="#3c3c3c" >9/64" hole, countersunk</text>
<text x="305" y="103.8" font-size="7.5" fill="#3c3c3c" >flush for a #6 screw</text>
<polyline points="303.5,91.5 290.0,91.5 271.0,106.5" fill="none" stroke="#6a6a6a" stroke-width="0.7" />
<text x="480" y="279.2" font-size="7.5" fill="#3c3c3c" >Double-strength glass</text>
<polyline points="426.0,277.0 478.0,277.0" fill="none" stroke="#6a6a6a" stroke-width="0.7" />
<text x="479" y="345.2" font-size="7.5" fill="#3c3c3c" >1/8"x1/8" rabbet</text>
<text x="479" y="353.8" font-size="7.5" fill="#3c3c3c" >for glass</text>
<polyline points="410.0,341.8 477.0,341.8" fill="none" stroke="#6a6a6a" stroke-width="0.7" />
<text x="48.5" y="317.2" font-size="7.5" fill="#3c3c3c" >Cross-grain splines</text>
<text x="48.5" y="325.8" font-size="7.5" fill="#3c3c3c" >sized to fit saw kerfs</text>
<polyline points="47.5,313.8 44.5,313.8 44.5,346.0" fill="none" stroke="#6a6a6a" stroke-width="0.7" />
<text x="489" y="398.6" font-size="7.5" fill="#3c3c3c" >Top of rear legs notched</text>
<text x="489" y="407.20000000000005" font-size="7.5" fill="#3c3c3c" >to receive rear rail</text>
<polyline points="570.5,395.2 595.4,395.2 595.4,428.5 589.0,428.5" fill="none" stroke="#6a6a6a" stroke-width="0.7" />
<text x="498.4" y="441.2" font-size="7.5" fill="#3c3c3c" >3/8 x 1" mortise,</text>
<text x="498.4" y="449.8" font-size="7.5" fill="#3c3c3c" >13/16" deep</text>
<polyline points="550.6,437.8 578.0,437.8" fill="none" stroke="#6a6a6a" stroke-width="0.7" />
<text x="487" y="466.2" font-size="7.5" fill="#3c3c3c" >3/8 x 1-3/8" mortise,</text>
<text x="487" y="474.8" font-size="7.5" fill="#3c3c3c" >13/16" deep for back</text>
<text x="487" y="483.4" font-size="7.5" fill="#3c3c3c" >rail</text>
<polyline points="556.8,463.3 583.0,454.6" fill="none" stroke="#6a6a6a" stroke-width="0.7" />
<text x="487.7" y="503.0" font-size="7.5" fill="#3c3c3c" >1/8" hardboard</text>
<text x="487.7" y="511.6" font-size="7.5" fill="#3c3c3c" >bottom panel</text>
<polyline points="486.0,499.6 428.7,485.0" fill="none" stroke="#6a6a6a" stroke-width="0.7" />
<ellipse cx="420.2" cy="482.1" rx="1.6" ry="0.9" fill="#222"/>
<text x="789" y="400.2" font-size="7.5" fill="#3c3c3c" >Raised ridge fits into recess</text>
<text x="789" y="408.8" font-size="7.5" fill="#3c3c3c" >created by brass strips on</text>
<text x="789" y="417.4" font-size="7.5" fill="#3c3c3c" >bottomside of case to prevent</text>
<text x="789" y="426.0" font-size="7.5" fill="#3c3c3c" >case from sliding of base.</text>
<text x="789" y="434.59999999999997" font-size="7.5" fill="#3c3c3c" >See detail B, sheet 5</text>
<polyline points="888.0,397.6 895.0,397.6 895.0,447.0" fill="none" stroke="#6a6a6a" stroke-width="0.7" />
<text x="724.7" y="605.2" font-size="7.5" fill="#3c3c3c" >3/8 x 1" tenon, 3/4" long</text>
<polyline points="723.7,601.8 713.0,601.8 713.0,575.8" fill="none" stroke="#6a6a6a" stroke-width="0.7" />
<rect x="4.3" y="4.3" width="977.8" height="619.2" fill="none" stroke="#cdcdcd" stroke-width="0.9"/>
<rect x="0" y="0" width="986.3" height="1.7" fill="#2b2b2b"/>
<rect x="0" y="0" width="1.7" height="628" fill="#2b2b2b"/>
<rect x="984.6" y="0" width="1.7" height="628" fill="#2b2b2b"/>
<rect x="0" y="626.3" width="986.3" height="1.8" fill="#2b2b2b"/>
<rect x="474.5" y="609.2" width="506.20000000000005" height="14.599999999999909" fill="none" stroke="#b5b5b5" stroke-width="0.7"/>
<line x1="474.5" y1="611.7" x2="980.7" y2="611.7" stroke="#e4e4e4" stroke-width="0.5" />
<line x1="474.5" y1="614.1" x2="980.7" y2="614.1" stroke="#e4e4e4" stroke-width="0.5" />
<line x1="474.5" y1="616.5" x2="980.7" y2="616.5" stroke="#e4e4e4" stroke-width="0.5" />
<line x1="474.5" y1="618.9" x2="980.7" y2="618.9" stroke="#e4e4e4" stroke-width="0.5" />
<line x1="474.5" y1="621.3" x2="980.7" y2="621.3" stroke="#e4e4e4" stroke-width="0.5" />
<line x1="566.0" y1="609.2" x2="566.0" y2="623.8" stroke="#c4c4c4" stroke-width="0.6" stroke-dasharray="1.3,0.9"/>
<line x1="772.5" y1="609.2" x2="772.5" y2="623.8" stroke="#c4c4c4" stroke-width="0.6" stroke-dasharray="1.3,0.9"/>
<line x1="906.5" y1="609.2" x2="906.5" y2="623.8" stroke="#c4c4c4" stroke-width="0.6" stroke-dasharray="1.3,0.9"/>
<line x1="950.5" y1="609.2" x2="950.5" y2="623.8" stroke="#c4c4c4" stroke-width="0.6" stroke-dasharray="1.3,0.9"/>
<text x="512" y="620.4" font-size="10.0" fill="#161616" >WS20118</text>
<text x="633" y="620.4" font-size="10.0" fill="#161616" >CLASSIC FLAG CASE</text>
<text x="794.3" y="620.4" font-size="10.0" fill="#161616" >WodsmithPlans.com</text>
<text x="913" y="620.4" font-size="10.0" fill="#161616" >2/28/19</text>
<text x="963.6" y="620.4" font-size="10.0" fill="#161616" >4</text>
<text x="907.6" y="611.3" font-size="3" fill="#888" >DATE</text>
<text x="952" y="611.3" font-size="3" fill="#888" >SHEET</text>
</svg></body></html>
